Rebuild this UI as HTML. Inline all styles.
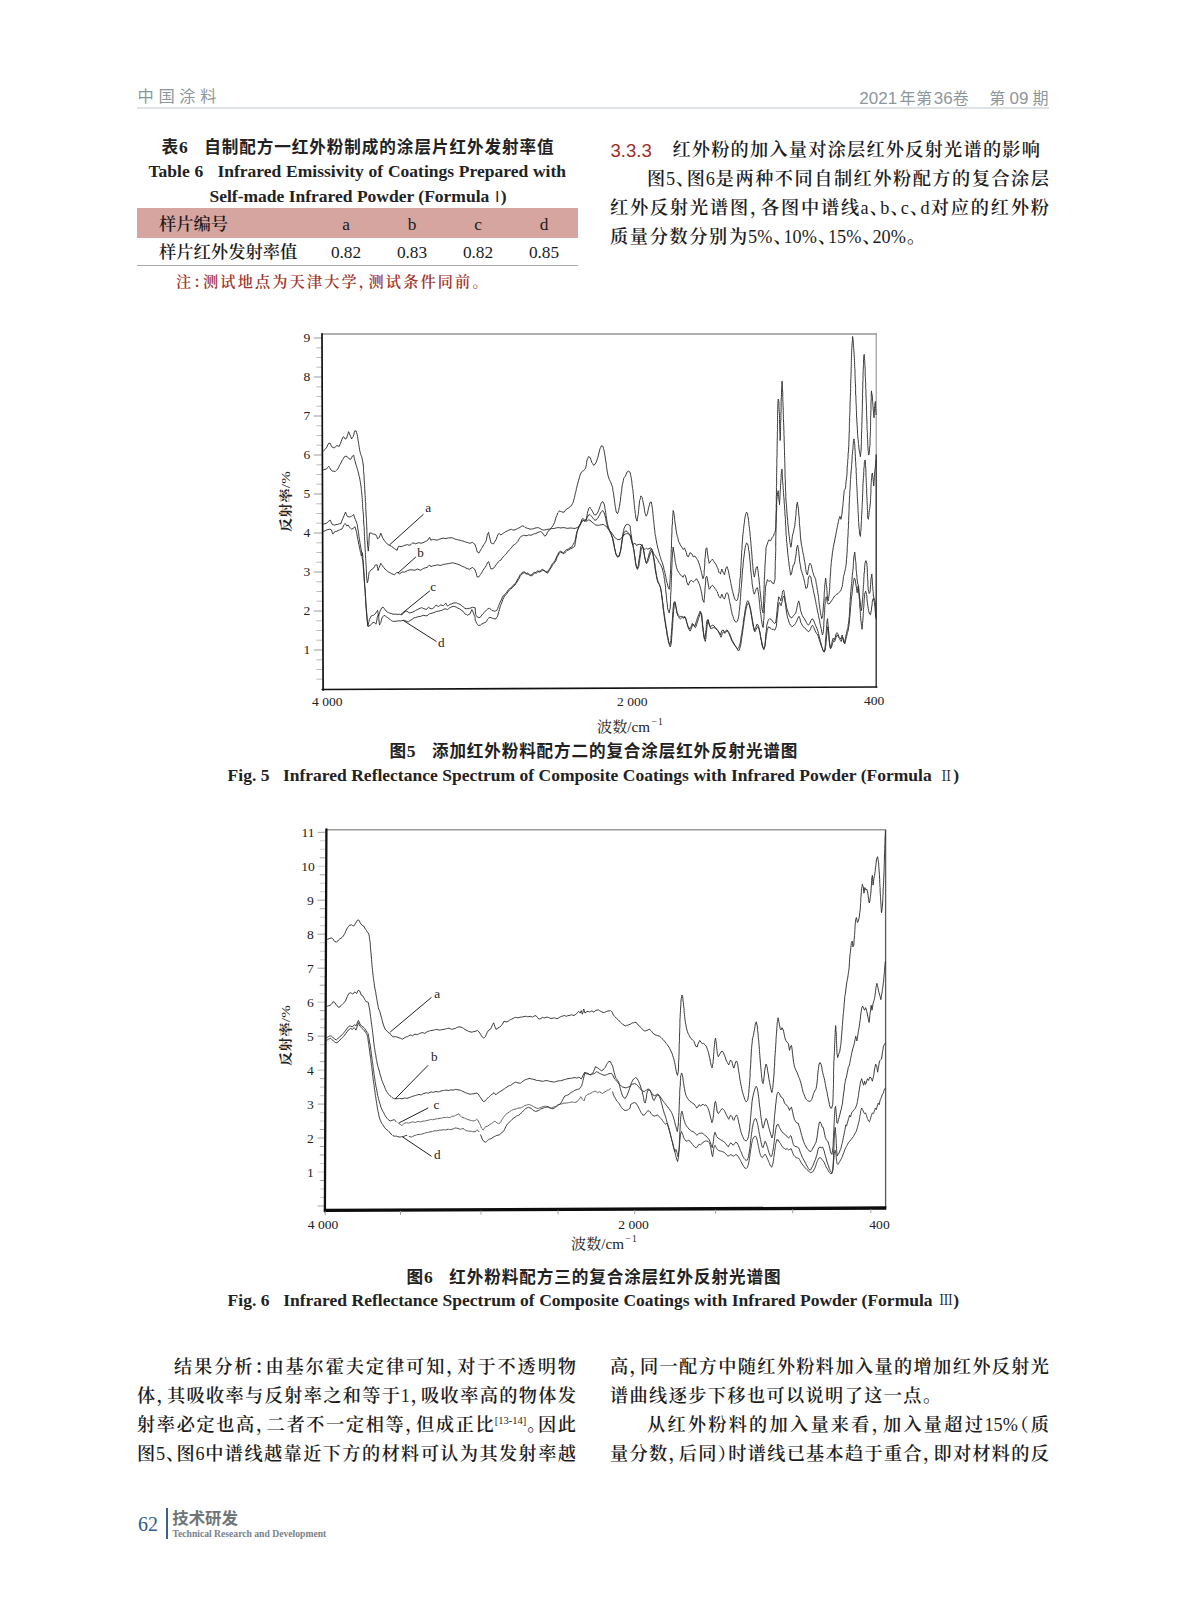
<!DOCTYPE html>
<html lang="zh-CN">
<head>
<meta charset="utf-8">
<title>中国涂料 2021年第36卷 第09期</title>
<style>
html,body{margin:0;padding:0;background:#fff;}
body{font-feature-settings:"halt";width:1187px;height:1600px;position:relative;overflow:hidden;
  font-family:"Liberation Serif","Noto Serif CJK SC",serif;color:#1a1a1a;}
.abs{position:absolute;white-space:nowrap;}
.j{text-align:justify;text-align-last:justify;}
.p{font-feature-settings:"halt";}
.c{text-align:center;}
.song{font-family:"Liberation Serif","Noto Serif CJK SC",serif;}
.hei{font-family:"Liberation Sans","Noto Sans CJK SC",sans-serif;}
.body{font-size:18.2px;line-height:29px;height:29px;color:#1c1c1c;font-weight:600;}
.l{font-weight:normal;margin:0 -0.6px;}
.hdr{color:#8d979b;}
.red{color:#a3332b;}
svg{position:absolute;left:0;top:0;}
svg text{font-family:"Liberation Serif","Noto Serif CJK SC",serif;fill:#222;}
</style>
</head>
<body>

<!-- running header -->
<div class="abs hei hdr" style="left:137.6px;top:84.8px;font-size:16.3px;line-height:22px;letter-spacing:4.6px;">中国涂料</div>
<div class="abs hei hdr" style="left:0;top:87px;width:1187px;height:24px;font-size:16px;line-height:24px;"><span class="abs" style="left:859.3px;font-size:17px;">2021</span><span class="abs" style="left:899.4px;letter-spacing:0.5px;">年第</span><span class="abs" style="left:933.8px;font-size:17px;">36</span><span class="abs" style="left:952.8px;">卷</span><span class="abs" style="left:989.2px;">第</span><span class="abs" style="left:1009.6px;font-size:17px;">09</span><span class="abs" style="left:1032.6px;">期</span></div>
<div class="abs" style="left:137px;top:107px;width:912px;height:2px;background:#dfe3e5;"></div>

<!-- table 6 -->
<div class="abs hei" style="left:161.5px;top:135.2px;width:392px;font-size:16.6px;line-height:24px;font-weight:bold;color:#222;"><div class="j">表<span class="song" style="font-size:17.5px">6</span> &nbsp;&nbsp;自制配方一红外粉制成的涂层片红外发射率值</div></div>
<div class="abs" style="left:148.5px;top:159.3px;width:417.5px;font-size:17.5px;line-height:24px;font-weight:bold;color:#222;"><div class="j">Table 6 &nbsp;&nbsp;Infrared Emissivity of Coatings Prepared with</div></div>
<div class="abs" style="left:209.5px;top:183.5px;font-size:17.5px;line-height:24px;font-weight:bold;color:#222;">Self-made Infrared Powder (Formula <span class="hei" style="font-weight:normal;font-size:15px;letter-spacing:-5px;margin-left:-4px">Ⅰ</span><span style="margin-left:1px">)</span></div>
<div class="abs" style="left:137px;top:208.3px;width:441px;height:29.6px;background:#d7a5a0;"></div>
<div class="abs" style="left:137px;top:265.2px;width:441px;height:1.2px;background:#a9a9a9;"></div>
<div class="abs body" style="left:159px;top:209.7px;font-size:17.3px;">样片编号</div>
<div class="abs body c" style="font-size:17.3px;left:316px;top:209.7px;width:60px;"><span class="l">a</span></div>
<div class="abs body c" style="font-size:17.3px;left:382px;top:209.7px;width:60px;"><span class="l">b</span></div>
<div class="abs body c" style="font-size:17.3px;left:448px;top:209.7px;width:60px;"><span class="l">c</span></div>
<div class="abs body c" style="font-size:17.3px;left:514px;top:209.7px;width:60px;"><span class="l">d</span></div>
<div class="abs body" style="left:159px;top:238px;font-size:17.3px;">样片红外发射率值</div>
<div class="abs body c" style="font-size:17.3px;left:316px;top:238px;width:60px;"><span class="l">0.82</span></div>
<div class="abs body c" style="font-size:17.3px;left:382px;top:238px;width:60px;"><span class="l">0.83</span></div>
<div class="abs body c" style="font-size:17.3px;left:448px;top:238px;width:60px;"><span class="l">0.82</span></div>
<div class="abs body c" style="font-size:17.3px;left:514px;top:238px;width:60px;"><span class="l">0.85</span></div>
<div class="abs red" style="left:176px;top:270px;width:304px;font-size:15.2px;line-height:24px;font-weight:600;"><div class="j">注：测试地点为天津大学，测试条件同前。</div></div>

<!-- right column top -->
<div class="abs hei" style="left:610.5px;top:136px;font-size:18.6px;line-height:29px;color:#9e2c25;">3.3.3</div>
<div class="abs body" style="left:672.4px;top:136px;width:367.5px;font-size:18.2px;"><div class="j">红外粉的加入量对涂层红外反射光谱的影响</div></div>
<div class="abs body" style="left:647px;top:165px;width:402px;"><div class="j">图<span class="l">5</span>、图<span class="l">6</span>是两种不同自制红外粉配方的复合涂层</div></div>
<div class="abs body" style="left:610px;top:194px;width:439px;"><div class="j">红外反射光谱图，各图中谱线<span class="l">a</span>、<span class="l">b</span>、<span class="l">c</span>、<span class="l">d</span>对应的红外粉</div></div>
<div class="abs body" style="left:610px;top:223px;width:306px;"><div class="j">质量分数分别为<span class="l">5%</span>、<span class="l">10%</span>、<span class="l">15%</span>、<span class="l">20%</span>。</div></div>

<!-- figure captions -->
<div class="abs hei" style="left:389.4px;top:738.5px;width:408px;font-size:16.6px;line-height:24px;font-weight:bold;color:#222;"><div class="j">图<span class="song" style="font-size:17.5px">5</span> &nbsp;&nbsp;添加红外粉料配方二的复合涂层红外反射光谱图</div></div>
<div class="abs" style="left:227.6px;top:763.2px;width:731.5px;font-size:17.5px;line-height:24px;font-weight:bold;color:#222;"><div class="j">Fig. 5 &nbsp;&nbsp;Infrared Reflectance Spectrum of Composite Coatings with Infrared Powder (Formula <span style="font-weight:normal;font-size:14px;margin:0 0 0 3px;position:relative;top:-0.5px">Ⅱ</span>)</div></div>
<div class="abs hei" style="left:406.6px;top:1265px;width:374px;font-size:16.6px;line-height:24px;font-weight:bold;color:#222;"><div class="j">图<span class="song" style="font-size:17.5px">6</span> &nbsp;&nbsp;红外粉料配方三的复合涂层红外反射光谱图</div></div>
<div class="abs" style="left:227.6px;top:1287.8px;width:731.5px;font-size:17.5px;line-height:24px;font-weight:bold;color:#222;"><div class="j">Fig. 6 &nbsp;&nbsp;Infrared Reflectance Spectrum of Composite Coatings with Infrared Powder (Formula <span style="font-weight:normal;font-size:14px;margin:0 0 0 2px;position:relative;top:-0.5px">Ⅲ</span>)</div></div>

<!-- bottom left column -->
<div class="abs body" style="left:174px;top:1353px;width:402px;"><div class="j">结果分析：由基尔霍夫定律可知，对于不透明物</div></div>
<div class="abs body" style="left:137px;top:1382px;width:439px;"><div class="j">体，其吸收率与反射率之和等于<span class="l">1</span>，吸收率高的物体发</div></div>
<div class="abs body" style="left:137px;top:1411px;width:439px;"><div class="j">射率必定也高，二者不一定相等，但成正比<sup style="font-size:10.5px;line-height:0;vertical-align:7.5px;"><span class="l">[13-14]</span></sup>。因此</div></div>
<div class="abs body" style="left:137px;top:1440px;width:439px;"><div class="j">图<span class="l">5</span>、图<span class="l">6</span>中谱线越靠近下方的材料可认为其发射率越</div></div>

<!-- bottom right column -->
<div class="abs body" style="left:610px;top:1353px;width:439px;"><div class="j">高，同一配方中随红外粉料加入量的增加红外反射光</div></div>
<div class="abs body" style="left:610px;top:1382px;width:322px;"><div class="j">谱曲线逐步下移也可以说明了这一点。</div></div>
<div class="abs body" style="left:647px;top:1411px;width:402px;"><div class="j">从红外粉料的加入量来看，加入量超过<span class="l">15%</span>（质</div></div>
<div class="abs body" style="left:610px;top:1440px;width:439px;"><div class="j">量分数，后同）时谱线已基本趋于重合，即对材料的反</div></div>

<!-- footer -->
<div class="abs" style="left:138px;top:1512px;font-size:20px;line-height:24px;color:#335c8a;">62</div>
<div class="abs" style="left:166px;top:1508px;width:2px;height:31px;background:#3a6190;"></div>
<div class="abs hei" style="left:172.3px;top:1507px;font-size:16.4px;line-height:22px;font-weight:bold;color:#6e7579;">技术研发</div>
<div class="abs" style="left:172.5px;top:1528px;font-size:9.65px;line-height:12px;font-weight:bold;color:#7b8287;">Technical Research and Development</div>

<!--CHARTS_BEGIN-->
<svg width="1187" height="1600" viewBox="0 0 1187 1600">
<g fill="none" stroke-linejoin="round" stroke-linecap="round">
<path d="M313.8,338.0H322.4M313.8,377.0H322.4M313.8,416.0H322.4M313.8,455.0H322.4M313.8,494.0H322.4M313.8,533.0H322.4M313.8,572.0H322.4M313.8,611.0H322.4M313.8,650.0H322.4" stroke="#bcbcbc" stroke-width="1.7" stroke-linecap="butt"/>
<path d="M316.4,347.8H322.4M316.4,357.5H322.4M316.4,367.2H322.4M316.4,386.8H322.4M316.4,396.5H322.4M316.4,406.2H322.4M316.4,425.8H322.4M316.4,435.5H322.4M316.4,445.2H322.4M316.4,464.8H322.4M316.4,474.5H322.4M316.4,484.2H322.4M316.4,503.8H322.4M316.4,513.5H322.4M316.4,523.2H322.4M316.4,542.8H322.4M316.4,552.5H322.4M316.4,562.2H322.4M316.4,581.8H322.4M316.4,591.5H322.4M316.4,601.2H322.4M316.4,620.8H322.4M316.4,630.5H322.4M316.4,640.2H322.4M316.4,659.8H322.4M316.4,669.5H322.4M316.4,679.2H322.4" stroke="#ababab" stroke-width="0.8" stroke-linecap="butt"/>
<path d="M322.0,334.0H876.2" stroke="#969696" stroke-width="1.3"/>
<path d="M876.2,333.8V460" stroke="#8a8a8a" stroke-width="1"/>
<path d="M876.2,455V687.0" stroke="#333" stroke-width="1.4"/>
<path d="M322.0,333.8L323.1,690.1" stroke="#111" stroke-width="1.7"/>
<path d="M322.2,689.5L876.8000000000001,687.0" stroke="#111" stroke-width="1.6"/>
<path d="M323.4,451.2 L324.9,449.4 L326.4,447.9 L327.2,446.1 L328.0,444.6 L328.8,443.1 L330.4,443.5 L331.1,445.3 L332.1,447.1 L333.2,447.5 L334.5,447.9 L335.6,446.5 L336.9,445.5 L338.1,446.1 L339.4,446.3 L339.9,444.5 L340.6,443.3 L341.2,441.4 L341.8,439.8 L342.7,437.9 L343.4,436.6 L344.3,437.7 L345.1,439.0 L346.7,438.2 L347.1,436.3 L347.6,435.1 L348.1,433.4 L348.6,431.7 L349.3,433.2 L349.9,434.9 L350.8,436.7 L351.6,439.0 L352.3,437.6 L353.2,436.6 L353.8,434.6 L354.2,432.8 L354.8,430.9 L356.1,430.9 L356.6,432.6 L357.2,434.8 L357.6,436.6 L357.8,438.4 L358.1,440.4 L358.4,441.8 L358.7,443.5 L358.9,445.5 L359.3,447.7 L359.6,449.6 L360.0,451.7 L360.5,453.6 L361.1,455.3 L361.7,456.8 L362.1,458.5 L362.5,460.7 L362.9,462.8 L363.3,465.0 L363.5,467.4 L363.5,469.4 L363.6,471.6 L363.9,474.0 L364.1,475.7 L364.1,478.1 L364.2,480.1 L364.3,482.1 L364.6,484.5 L364.6,486.8 L364.7,488.6 L364.9,491.1 L364.9,492.9 L365.1,495.3 L365.3,497.4 L365.3,499.2 L365.4,501.6 L365.7,503.3 L365.7,505.6 L365.7,507.6 L365.8,509.8 L366.0,511.8 L366.0,514.0 L366.2,516.2 L366.4,518.4 L366.4,520.5 L366.5,522.3 L366.7,524.8 L366.7,526.7 L366.9,529.0 L366.9,530.7 L366.9,532.9 L367.0,534.6 L367.1,536.7 L367.2,538.7 L367.3,540.8 L367.5,543.0 L367.6,544.9 L367.8,547.3 L368.1,548.9 L368.3,551.1 L368.4,549.0 L368.6,546.8 L368.9,545.3 L368.9,543.0 L369.0,541.0 L369.0,538.9 L369.2,537.0 L369.4,535.0 L369.4,533.2 L371.1,532.9 L372.2,533.8 L373.5,534.1 L374.7,534.3 L375.9,534.9 L376.8,536.6 L377.6,538.9 L378.4,538.4 L379.2,537.3 L380.1,535.4 L380.8,533.2 L381.6,535.2 L382.4,537.3 L383.2,538.8 L384.1,540.2 L384.9,541.4 L385.9,542.3 L387.1,543.8 L388.1,544.6 L389.8,545.6 L391.4,546.2 L393.1,547.6 L394.6,548.7 L395.8,549.5 L397.1,550.3 L397.8,548.0 L398.7,546.2 L399.8,546.4 L401.1,546.7 L402.7,546.2 L404.4,545.4 L406.1,545.0 L407.6,544.6 L408.9,545.2 L410.1,545.1 L411.4,544.0 L412.5,543.0 L414.1,543.2 L415.7,543.8 L417.3,543.1 L419.0,542.7 L420.7,543.1 L422.2,543.0 L424.0,542.2 L425.5,541.4 L426.8,540.9 L427.9,540.1 L428.6,538.8 L429.6,537.3 L430.2,538.9 L430.7,540.1 L432.2,539.7 L433.6,539.4 L435.2,539.9 L436.9,540.1 L438.5,539.7 L440.1,538.9 L441.9,538.5 L443.4,538.1 L445.0,538.6 L446.6,538.4 L448.3,537.9 L449.9,537.8 L451.4,537.7 L453.1,538.1 L454.8,539.0 L456.4,539.4 L457.9,539.9 L459.6,540.1 L461.4,540.7 L462.9,541.0 L464.5,541.6 L466.1,542.2 L467.7,542.5 L469.4,543.3 L471.1,542.9 L472.6,542.3 L473.8,543.7 L475.1,544.6 L475.6,546.7 L476.3,548.1 L476.7,550.0 L477.3,551.9 L478.9,553.1 L479.7,551.7 L480.5,550.1 L481.4,548.7 L482.1,547.6 L483.0,546.0 L483.8,544.6 L484.6,543.5 L485.4,542.2 L486.2,540.6 L486.6,539.0 L486.9,537.0 L487.2,535.5 L487.5,534.1 L488.7,532.4 L488.9,534.5 L489.4,536.2 L489.8,538.1 L490.3,539.8 L490.6,541.4 L491.1,543.0 L492.4,543.6 L493.6,543.8 L494.3,542.5 L495.1,541.0 L496.0,539.7 L496.7,538.0 L497.3,536.4 L497.9,534.5 L499.2,533.6 L500.9,534.9 L502.2,534.0 L503.3,533.2 L504.6,532.4 L505.7,531.6 L507.4,530.9 L509.0,530.0 L510.2,529.7 L511.4,529.3 L512.6,529.9 L513.9,530.0 L515.1,529.8 L516.3,529.2 L517.6,528.5 L518.7,528.0 L520.0,527.5 L521.2,526.4 L522.8,525.9 L524.1,526.5 L525.2,527.6 L526.4,527.9 L527.7,528.4 L528.8,528.6 L530.1,529.2 L531.2,529.1 L532.6,528.9 L533.8,528.7 L535.0,528.0 L536.1,527.9 L537.4,527.6 L538.7,527.8 L539.9,528.4 L541.2,529.3 L542.3,529.7 L543.5,530.1 L544.7,530.0 L546.3,529.6 L548.0,529.2 L549.7,529.1 L551.2,528.7 L552.8,528.5 L554.5,528.4 L556.1,527.9 L557.7,527.6 L559.3,527.7 L561.0,528.0 L562.7,527.6 L564.2,527.7 L565.9,528.0 L567.5,528.4 L569.0,528.1 L570.7,528.0 L572.4,528.2 L574.0,528.4 L575.5,528.3 L577.2,527.6 L578.5,526.6 L579.7,525.1 L580.8,523.4 L582.1,521.9 L582.8,521.2 L583.7,520.2 L584.9,520.4 L586.2,521.1 L587.4,520.7 L588.6,519.9 L589.9,520.3 L591.1,521.1 L592.2,522.4 L593.5,523.2 L594.7,524.3 L595.9,525.1 L597.1,525.0 L598.4,525.4 L599.6,525.1 L600.8,524.8 L601.9,524.8 L603.2,524.3 L604.5,525.3 L605.7,525.9 L606.8,527.4 L608.1,528.4 L609.2,530.2 L610.6,531.6 L611.8,533.2 L613.0,534.9 L614.2,536.8 L615.4,538.1 L616.6,538.7 L617.9,539.7 L619.1,539.4 L620.3,539.4 L621.4,537.8 L622.7,536.5 L623.9,535.1 L625.2,534.1 L626.4,533.7 L627.6,533.6 L628.9,534.3 L630.1,535.2 L630.5,536.8 L631.0,538.5 L631.5,540.6 L632.0,542.2 L632.6,544.4 L633.1,546.2 L633.4,548.3 L633.9,550.1 L634.2,552.3 L634.4,554.4 L634.7,556.5 L634.9,558.3 L635.2,560.5 L635.4,562.4 L635.7,564.1 L636.4,566.2 L637.0,568.2 L637.7,566.9 L638.3,565.7 L638.5,563.6 L638.7,562.0 L639.0,559.7 L639.3,558.2 L639.6,556.0 L640.0,554.1 L640.1,551.9 L640.4,550.1 L640.6,548.2 L640.9,546.2 L642.2,544.6 L642.6,546.5 L643.2,547.9 L643.5,549.5 L643.8,551.8 L644.1,553.5 L644.4,555.5 L644.8,557.6 L645.3,559.2 L645.6,560.9 L646.1,562.5 L647.4,560.9 L647.7,559.1 L648.2,557.6 L648.7,556.0 L649.0,554.1 L649.5,552.6 L650.0,551.1 L650.7,549.9 L651.3,548.7 L652.0,550.4 L652.6,551.9 L653.0,554.0 L653.2,555.5 L653.7,557.2 L653.9,559.2 L654.2,561.3 L654.3,563.3 L654.8,565.2 L655.0,567.2 L655.2,569.0 L655.5,571.0 L655.9,573.3 L656.3,575.3 L656.5,577.1 L657.0,579.0 L657.4,580.5 L657.8,582.0 L658.6,582.9 L659.4,584.4 L660.0,586.4 L660.7,588.5 L660.9,590.6 L661.3,592.5 L661.6,594.5 L661.8,596.0 L662.0,598.2 L662.3,600.3 L662.5,602.1 L662.7,603.7 L663.0,605.7 L663.0,607.6 L663.3,609.6 L663.7,611.4 L663.9,613.8 L664.1,615.4 L664.4,617.5 L664.6,619.4 L665.0,621.5 L665.3,623.2 L665.5,625.3 L665.9,627.5 L666.3,629.4 L666.6,631.3 L666.8,633.4 L667.2,635.6 L667.6,637.4 L667.9,638.7 L668.2,640.5 L668.5,642.1 L669.2,643.1 L669.8,644.6 L670.4,642.3 L670.8,640.5 L671.1,638.6 L671.0,636.1 L671.4,634.3 L671.5,631.7 L671.6,629.9 L671.8,627.5 L671.9,625.5 L672.0,623.3 L672.3,621.0 L672.4,619.1 L672.6,617.2 L672.6,615.2 L672.8,612.9 L673.0,610.6 L673.0,609.0 L673.3,606.9 L673.5,605.0 L673.7,603.1 L674.7,601.5 L675.0,603.3 L675.3,604.9 L675.7,606.4 L676.1,607.8 L676.5,609.7 L676.8,611.1 L677.0,612.9 L677.8,614.0 L678.6,615.3 L679.6,616.2 L680.2,616.9 L681.9,616.1 L683.2,617.7 L684.5,616.1 L685.1,617.3 L685.8,618.6 L686.2,619.9 L686.5,622.0 L687.1,623.4 L687.7,625.3 L688.4,626.7 L689.0,627.8 L689.7,629.1 L690.3,627.7 L691.0,626.7 L691.6,625.3 L692.3,623.4 L693.6,625.1 L694.9,625.9 L695.6,624.0 L696.2,621.8 L696.9,620.0 L697.5,617.7 L698.2,616.1 L698.8,614.5 L699.5,612.6 L700.1,611.2 L701.0,612.9 L701.3,614.9 L701.6,617.0 L701.7,618.7 L702.0,621.0 L702.3,622.7 L702.4,624.8 L702.6,627.0 L702.9,628.7 L703.0,630.7 L703.4,632.8 L703.7,635.0 L704.0,637.2 L704.9,638.9 L705.1,636.6 L705.4,635.1 L705.7,632.6 L705.9,630.7 L706.2,629.1 L706.3,626.6 L706.4,624.6 L706.7,622.7 L706.9,621.0 L707.9,619.4 L708.3,621.3 L708.8,623.4 L709.5,625.3 L710.1,626.7 L711.4,625.9 L712.7,625.1 L714.0,625.9 L715.3,627.5 L716.6,629.1 L717.9,630.7 L719.2,632.4 L720.0,633.5 L720.5,634.8 L721.2,632.8 L721.8,630.7 L723.1,629.9 L723.8,631.1 L724.4,632.4 L725.7,630.7 L727.0,629.9 L728.3,631.6 L728.9,632.6 L729.6,634.0 L730.4,635.4 L730.9,637.2 L731.6,638.9 L732.2,640.5 L733.0,641.5 L733.5,642.9 L734.1,644.0 L734.8,645.4 L736.1,647.0 L737.4,648.6 L738.7,647.8 L739.4,645.7 L740.0,643.7 L740.5,641.9 L740.8,639.4 L740.9,637.8 L741.3,635.6 L741.8,633.6 L742.0,631.3 L742.3,629.8 L742.6,627.5 L743.0,625.8 L743.3,623.4 L743.3,621.4 L743.7,619.8 L743.9,617.7 L744.4,615.8 L744.6,613.8 L744.9,611.7 L745.2,609.6 L745.5,608.2 L745.8,606.6 L746.3,604.6 L746.5,603.1 L747.1,601.8 L747.8,600.7 L748.5,602.0 L749.1,603.1 L749.4,604.5 L749.8,606.4 L750.1,607.8 L750.4,609.6 L750.8,611.4 L751.0,613.7 L751.5,615.8 L751.7,617.7 L752.2,619.8 L752.3,621.7 L752.8,624.0 L753.0,625.9 L753.4,627.2 L753.9,629.2 L754.3,630.7 L755.0,629.0 L755.6,627.5 L756.3,626.1 L756.9,624.2 L758.2,625.1 L758.6,626.7 L759.1,628.8 L759.5,630.7 L759.9,632.6 L760.3,635.0 L760.5,636.7 L760.8,638.9 L761.3,640.4 L761.6,642.0 L761.8,643.9 L762.1,645.4 L762.7,647.3 L763.4,648.6 L764.2,647.3 L764.9,646.4 L765.0,644.4 L765.2,642.8 L765.3,640.6 L765.5,639.1 L765.6,636.6 L765.8,635.0 L765.9,633.0 L766.3,631.3 L766.5,629.4 L766.7,627.1 L766.8,625.2 L767.2,623.9 L767.8,621.7 L768.1,620.4 L769.0,619.5 L769.7,618.7 L771.4,619.6 L772.2,620.7 L773.0,622.0 L773.7,622.5 L774.6,623.6 L775.9,622.0 L776.1,620.0 L776.4,617.9 L776.6,616.0 L776.7,614.4 L776.9,612.2 L777.2,610.3 L777.2,608.3 L777.5,606.6 L777.6,604.4 L777.9,602.5 L778.3,600.3 L778.5,598.9 L778.8,596.8 L779.8,598.4 L780.4,599.4 L780.8,600.9 L781.0,599.0 L781.6,597.5 L781.8,596.0 L782.2,594.6 L782.4,592.6 L782.7,591.1 L783.7,590.3 L784.2,592.3 L784.3,594.2 L784.7,596.0 L785.0,598.0 L785.2,600.5 L785.7,602.5 L786.1,604.2 L786.4,605.5 L786.6,607.4 L787.0,609.0 L787.6,610.9 L788.0,612.1 L788.6,613.9 L789.4,615.5 L790.2,617.1 L791.8,617.9 L792.8,616.5 L793.5,615.5 L794.4,614.8 L795.1,613.9 L795.8,612.4 L796.4,610.6 L796.7,608.9 L797.0,607.3 L797.4,605.5 L797.7,604.1 L798.1,602.6 L798.7,600.9 L799.1,602.2 L799.6,604.1 L799.9,606.3 L800.3,608.7 L800.6,610.6 L801.4,612.9 L801.9,614.7 L802.5,615.7 L803.2,617.1 L804.5,618.7 L805.1,620.0 L805.8,621.2 L806.5,622.4 L807.1,623.6 L808.4,625.2 L809.7,623.6 L810.3,621.9 L811.0,620.4 L812.3,618.7 L813.6,620.4 L814.3,622.1 L814.9,623.6 L815.6,625.5 L816.2,626.9 L816.9,628.3 L817.5,630.1 L818.0,631.6 L818.4,633.3 L818.8,635.0 L819.3,636.4 L819.6,638.1 L820.1,639.9 L820.5,641.7 L821.0,643.0 L821.4,644.7 L821.8,646.7 L822.3,647.8 L822.7,649.6 L823.4,650.9 L824.0,652.1 L824.6,649.8 L825.0,648.0 L825.2,646.0 L825.4,643.9 L825.4,641.4 L825.6,639.1 L825.9,637.2 L826.0,635.0 L826.2,632.8 L826.4,630.6 L826.4,628.7 L826.7,626.1 L826.8,624.2 L826.9,622.0 L827.2,620.3 L827.6,618.7 L827.7,620.6 L827.9,622.9 L828.1,624.7 L828.2,626.9 L828.3,628.9 L828.6,631.0 L828.7,633.2 L829.0,635.6 L829.0,637.5 L829.2,639.9 L829.4,641.9 L829.7,643.7 L829.9,646.1 L830.2,648.0 L831.2,646.4 L831.5,644.6 L831.8,643.4 L832.1,641.5 L832.6,639.9 L833.1,638.2 L834.4,639.9 L834.8,638.2 L835.4,636.9 L835.7,635.0 L836.3,633.6 L837.0,632.6 L837.7,633.6 L838.3,635.0 L838.9,636.5 L839.6,637.4 L840.9,639.1 L841.6,637.2 L842.2,635.0 L842.6,636.8 L843.1,638.0 L843.5,639.9 L843.9,641.5 L844.5,643.1 L844.9,641.7 L845.0,639.9 L845.5,638.2 L845.8,636.6 L846.0,634.9 L846.5,633.6 L846.8,631.7 L847.1,630.1 L847.7,628.8 L848.1,626.9 L848.2,624.6 L848.7,623.1 L848.8,620.5 L849.0,618.7 L849.3,616.6 L849.4,614.8 L849.5,612.4 L849.6,610.5 L849.6,608.8 L849.9,606.4 L849.8,604.5 L850.0,602.5 L850.2,600.3 L850.3,598.0 L850.6,596.2 L850.6,593.9 L850.9,591.4 L851.0,589.5 L851.3,587.3 L851.4,585.6 L851.6,583.5 L851.8,581.7 L852.0,579.7 L852.1,577.9 L852.3,575.8 L852.4,574.0 L852.8,571.8 L852.9,570.0 L853.2,568.0 L853.3,565.5 L853.4,563.3 L853.5,561.3 L853.7,559.1 L853.9,557.0 L854.2,555.1 L854.5,553.5 L854.7,552.1 L855.0,554.3 L855.1,555.9 L855.3,558.1 L855.5,560.2 L855.8,562.2 L856.0,564.9 L856.1,566.9 L856.1,569.2 L856.4,571.4 L856.5,573.2 L856.8,575.0 L857.0,577.4 L857.0,579.0 L857.4,580.8 L857.5,583.0 L858.1,584.5 L858.5,586.2 L858.8,588.1 L859.0,590.6 L859.1,592.2 L859.4,594.4 L859.6,596.2 L859.7,598.1 L860.0,600.5 L860.3,602.4 L860.4,604.1 L860.7,606.5 L861.0,608.5 L861.4,610.6 L861.6,608.9 L861.9,607.4 L862.0,605.7 L862.2,603.8 L862.3,601.7 L862.6,599.2 L862.8,596.9 L863.0,595.0 L863.0,592.7 L863.1,590.9 L863.3,588.5 L863.4,586.4 L863.6,584.5 L863.7,582.9 L863.8,580.7 L863.8,578.2 L864.0,576.5 L864.0,574.1 L864.4,572.1 L864.5,570.2 L864.6,567.7 L864.8,565.4 L865.0,563.5 L865.3,561.9 L865.9,560.6 L866.3,561.9 L866.9,563.5 L867.0,565.7 L867.2,567.7 L867.3,570.0 L867.3,572.4 L867.4,574.1 L867.6,576.5 L867.6,578.7 L867.9,581.0 L867.9,582.9 L867.9,585.3 L868.1,587.2 L868.2,589.5 L868.7,591.5 L869.2,593.6 L869.8,592.5 L870.2,591.1 L870.3,589.2 L870.4,586.8 L870.6,584.5 L870.7,582.6 L870.9,580.3 L871.1,578.1 L871.6,575.9 L871.8,574.1 L871.9,575.9 L872.1,577.7 L872.3,579.2 L872.3,581.1 L872.4,583.0 L872.5,585.4 L872.8,587.5 L872.8,589.7 L873.2,591.6 L873.3,593.8 L873.4,596.0 L873.8,597.4 L874.4,599.2 L874.8,600.6 L875.4,602.5 L875.4,604.7 L875.6,606.9 L875.7,608.6 L875.8,610.8 L875.9,613.0 L875.9,615.1 L876.0,617.1" stroke="#2e2e2e" stroke-width="0.95"/>
<path d="M323.4,469.9 L325.0,469.3 L326.4,469.1 L327.7,467.4 L328.8,466.3 L329.6,467.5 L330.4,469.1 L331.3,470.3 L332.1,471.0 L333.7,471.2 L335.3,471.5 L336.6,470.2 L337.7,469.1 L338.5,467.7 L339.4,465.8 L340.2,464.3 L341.0,462.8 L341.8,460.9 L342.6,459.8 L343.5,458.4 L344.2,456.9 L345.9,456.1 L347.5,456.9 L348.3,458.0 L349.1,458.8 L350.7,459.3 L351.6,457.6 L352.4,456.1 L353.7,455.2 L354.0,456.9 L354.3,458.7 L354.8,460.1 L355.3,461.7 L355.8,464.2 L356.4,465.8 L356.9,467.5 L357.4,469.3 L358.1,471.5 L358.5,473.2 L358.9,474.9 L359.2,476.4 L359.7,478.0 L360.0,480.2 L360.4,482.3 L360.6,484.3 L361.0,486.1 L361.3,488.3 L361.3,489.7 L361.5,491.5 L361.8,493.9 L362.0,495.8 L362.1,497.5 L362.3,499.4 L362.3,501.3 L362.6,503.4 L362.6,505.6 L362.7,507.5 L362.9,509.8 L363.1,511.6 L363.3,513.7 L363.5,515.8 L363.6,517.9 L363.5,519.8 L363.7,522.0 L363.8,524.0 L364.0,525.8 L364.2,527.7 L364.2,530.0 L364.4,531.8 L364.3,533.9 L364.6,536.4 L364.5,538.1 L364.7,540.3 L364.8,542.2 L364.9,544.4 L365.0,546.2 L365.1,548.5 L365.2,550.1 L365.4,552.3 L365.4,554.5 L365.5,556.6 L365.7,558.6 L365.8,560.4 L365.9,562.5 L366.0,564.5 L366.2,566.4 L366.3,568.5 L366.3,570.7 L366.5,572.9 L366.5,575.3 L366.7,577.1 L366.8,579.0 L367.1,581.1 L367.3,582.8 L367.9,580.9 L368.3,578.7 L368.5,576.5 L368.8,574.6 L369.1,572.2 L370.1,571.2 L371.1,569.8 L372.2,569.0 L373.5,568.2 L374.5,566.6 L375.4,564.9 L377.1,564.9 L377.3,566.8 L377.8,568.6 L378.0,570.6 L378.5,568.9 L379.2,567.4 L380.0,565.5 L380.8,563.3 L381.5,564.3 L382.4,565.7 L383.6,567.3 L384.9,569.0 L386.5,570.3 L388.1,571.9 L389.7,572.5 L391.4,573.5 L393.1,574.3 L394.6,574.7 L395.7,573.7 L397.1,572.2 L398.2,573.0 L399.5,573.9 L400.8,573.1 L401.9,571.9 L403.2,572.0 L404.4,572.2 L405.9,571.5 L407.6,570.6 L409.2,570.0 L410.9,569.8 L412.5,569.8 L414.1,570.3 L415.7,569.8 L417.4,569.0 L419.0,569.6 L420.6,570.3 L422.3,569.2 L423.9,568.2 L425.4,567.8 L427.1,567.4 L428.3,566.3 L429.6,564.9 L430.7,566.6 L432.3,566.1 L433.6,565.7 L435.3,565.5 L436.9,564.9 L438.5,565.0 L440.1,565.4 L441.8,565.2 L443.4,564.4 L445.1,564.2 L446.6,563.8 L448.3,563.7 L449.9,563.3 L451.5,563.0 L453.1,562.8 L454.7,563.4 L456.4,563.8 L457.9,564.3 L459.6,564.9 L461.3,565.9 L462.9,566.6 L464.5,567.2 L466.1,568.2 L467.7,568.7 L469.4,569.3 L471.0,568.3 L472.6,567.4 L473.9,568.8 L475.1,569.8 L475.5,571.7 L476.3,573.4 L476.7,575.6 L477.3,577.1 L478.9,576.8 L479.6,575.6 L480.5,574.5 L481.4,573.1 L482.3,571.7 L482.9,570.4 L483.8,569.0 L485.0,567.5 L486.2,565.7 L486.9,564.2 L487.5,562.5 L488.7,561.7 L489.3,563.7 L489.8,565.7 L490.5,567.6 L491.1,569.0 L492.3,568.7 L493.6,568.2 L494.8,566.7 L496.0,564.9 L497.1,563.6 L498.4,561.7 L499.6,560.6 L500.9,560.1 L502.0,558.4 L503.3,556.8 L504.4,555.5 L505.7,554.4 L506.9,552.9 L508.2,551.1 L509.4,549.8 L510.6,548.7 L511.8,547.2 L513.1,545.4 L514.4,544.6 L515.5,543.8 L516.7,542.8 L517.9,541.4 L518.7,539.6 L519.6,538.1 L520.3,537.3 L521.2,536.2 L522.5,535.8 L523.6,535.2 L524.8,535.5 L526.1,535.7 L527.2,535.6 L528.5,534.9 L529.7,535.1 L530.9,535.2 L532.2,534.8 L533.4,534.1 L534.6,533.7 L535.8,533.6 L537.0,532.8 L538.2,532.4 L539.5,531.9 L540.7,531.6 L541.8,532.3 L542.8,533.2 L543.7,534.6 L544.7,536.2 L546.4,534.9 L547.2,532.9 L548.0,531.3 L549.1,530.4 L550.4,529.2 L551.6,527.4 L552.9,525.9 L553.6,524.3 L554.5,522.7 L555.0,520.9 L555.6,518.8 L556.1,517.0 L557.0,515.2 L557.7,512.9 L558.5,512.1 L559.4,510.8 L560.7,511.5 L561.8,511.8 L562.9,512.2 L564.2,512.1 L565.5,510.2 L566.7,508.9 L567.8,508.5 L569.1,507.6 L570.4,506.4 L571.6,505.6 L572.3,503.8 L573.2,502.4 L573.5,500.9 L574.0,498.9 L574.5,497.7 L574.8,495.9 L575.1,494.3 L575.6,492.4 L576.1,490.6 L576.4,488.6 L576.9,487.1 L577.2,485.4 L577.7,483.8 L578.1,482.1 L578.6,480.4 L579.2,478.1 L579.7,476.4 L580.4,474.1 L581.3,472.3 L582.5,471.2 L583.7,470.7 L584.7,469.3 L585.7,468.2 L586.0,466.2 L586.4,464.4 L586.6,462.4 L587.0,460.1 L587.8,458.4 L588.6,456.5 L590.2,457.7 L590.8,459.5 L591.3,460.9 L591.9,462.6 L592.8,463.7 L593.5,465.3 L595.1,464.2 L596.0,462.6 L596.7,460.9 L597.2,459.1 L597.9,457.4 L598.4,455.2 L598.7,453.9 L599.2,452.0 L599.7,450.1 L600.0,448.7 L600.7,447.4 L601.3,445.8 L602.9,446.3 L603.5,448.6 L604.1,450.4 L604.4,452.5 L604.8,454.9 L605.2,456.9 L605.4,458.8 L605.7,460.8 L606.1,462.6 L606.3,464.6 L606.5,466.6 L606.8,468.5 L607.1,471.0 L607.5,472.9 L607.8,474.7 L608.3,476.3 L608.8,478.0 L609.4,479.6 L610.3,481.4 L611.0,482.9 L611.5,484.6 L612.2,486.2 L612.7,487.7 L612.8,489.7 L613.1,491.6 L613.6,493.9 L613.8,495.9 L614.1,498.0 L614.4,499.8 L614.6,501.8 L614.9,503.7 L615.1,505.6 L615.5,507.6 L615.9,509.9 L616.2,512.1 L617.5,513.7 L618.2,511.9 L618.7,510.5 L619.0,508.1 L619.5,506.4 L619.8,504.0 L620.1,502.0 L620.4,500.3 L620.6,498.0 L620.8,496.2 L621.1,494.2 L621.3,492.3 L621.7,490.6 L621.8,488.4 L622.1,486.2 L622.4,484.5 L622.9,482.6 L623.3,480.7 L623.6,478.8 L624.3,477.5 L625.2,476.4 L626.0,474.6 L626.8,472.3 L628.4,471.2 L630.1,472.3 L630.5,474.1 L630.7,475.6 L631.2,477.5 L631.4,479.2 L631.8,481.2 L631.9,483.3 L632.2,485.3 L632.4,487.2 L632.6,488.5 L633.0,490.6 L633.1,492.6 L633.4,494.6 L633.5,497.1 L633.8,499.3 L634.0,501.0 L634.2,503.6 L634.4,505.6 L634.6,507.8 L634.8,509.7 L635.1,511.0 L635.2,513.3 L635.6,514.8 L635.7,517.0 L636.3,519.2 L637.0,521.1 L637.3,519.4 L637.7,517.1 L638.0,515.6 L638.3,513.7 L638.5,511.7 L638.7,509.6 L638.9,507.3 L639.2,505.0 L639.4,503.1 L639.6,500.7 L640.2,499.3 L640.5,497.4 L640.9,495.9 L642.2,497.5 L642.4,499.4 L642.9,500.9 L643.2,502.4 L643.5,504.0 L644.0,506.2 L644.2,507.9 L644.5,510.3 L644.8,512.1 L645.4,514.3 L646.1,516.2 L646.8,515.2 L647.4,513.7 L647.8,512.0 L648.0,510.4 L648.4,508.9 L648.7,507.2 L649.2,505.9 L649.5,504.2 L650.0,502.4 L651.3,502.0 L651.7,504.4 L652.0,506.1 L652.4,508.6 L652.6,510.5 L652.9,512.9 L653.0,514.6 L653.3,517.2 L653.4,519.3 L653.8,521.2 L653.9,523.5 L654.2,525.5 L654.3,527.1 L654.5,529.3 L654.9,531.1 L654.9,533.2 L655.2,534.9 L655.7,536.7 L656.0,539.2 L656.4,541.0 L656.7,543.0 L657.1,544.7 L657.4,546.1 L657.8,548.0 L658.3,549.5 L658.7,551.2 L659.1,552.8 L659.4,554.1 L659.9,556.0 L660.6,557.5 L660.9,559.3 L661.6,560.9 L662.2,562.3 L662.7,564.0 L663.2,565.7 L663.6,567.1 L663.9,569.3 L664.5,570.6 L664.8,572.2 L665.2,574.1 L665.7,576.3 L666.1,578.5 L666.4,580.4 L666.9,582.3 L667.2,583.3 L667.6,585.1 L668.1,586.9 L668.5,587.8 L669.2,589.3 L669.4,587.4 L669.6,585.4 L669.9,582.7 L670.0,580.8 L670.2,578.7 L670.2,577.0 L670.3,574.7 L670.5,572.9 L670.5,570.6 L670.6,568.4 L670.8,566.9 L670.7,564.3 L670.8,562.4 L671.0,560.7 L671.1,558.2 L671.1,556.5 L671.1,554.4 L671.3,552.5 L671.2,549.9 L671.4,548.3 L671.5,545.8 L671.5,543.9 L671.5,541.5 L671.6,539.3 L671.7,537.2 L671.8,535.0 L671.9,532.8 L672.0,530.8 L671.9,529.1 L672.1,526.7 L672.2,525.0 L672.5,522.9 L672.4,520.6 L672.5,518.9 L672.8,516.7 L672.8,514.5 L673.1,512.5 L673.1,510.5 L673.6,511.9 L674.1,513.7 L674.2,515.4 L674.6,517.6 L674.6,519.7 L674.9,521.3 L675.1,523.1 L675.4,525.1 L675.8,527.0 L675.9,529.0 L676.3,531.2 L676.6,533.2 L677.0,534.9 L677.3,536.7 L677.9,537.9 L678.2,539.6 L678.6,541.4 L679.4,542.8 L680.2,544.6 L681.0,546.1 L681.9,547.1 L682.6,548.5 L683.2,549.5 L684.5,547.9 L685.0,549.4 L685.8,551.1 L686.3,552.5 L686.7,554.2 L687.1,556.0 L688.4,556.8 L689.3,554.5 L690.0,552.7 L691.6,553.6 L692.5,555.1 L693.2,556.8 L694.9,556.0 L695.6,556.9 L696.5,558.4 L697.4,559.7 L698.1,560.9 L698.6,562.5 L699.3,564.0 L699.7,565.7 L700.2,567.2 L700.5,569.2 L701.0,570.4 L701.4,572.2 L701.7,573.6 L702.2,575.5 L702.5,576.9 L703.0,578.7 L703.5,577.2 L704.0,575.5 L704.2,573.5 L704.1,571.2 L704.4,569.3 L704.5,567.1 L704.7,565.2 L704.8,563.5 L704.8,561.0 L704.9,559.2 L705.2,557.1 L705.4,554.9 L705.5,553.1 L705.7,550.6 L705.9,548.7 L706.9,547.9 L707.1,550.0 L707.3,551.9 L707.6,554.0 L707.9,556.0 L708.1,558.0 L708.6,559.9 L708.8,561.6 L709.2,563.3 L710.0,562.2 L710.8,560.9 L711.5,560.3 L712.4,559.2 L713.3,560.5 L714.0,561.7 L714.9,562.9 L715.7,564.1 L716.5,565.5 L717.3,567.4 L718.0,568.8 L718.3,570.4 L718.9,572.2 L719.7,573.2 L720.5,573.9 L720.9,572.0 L721.5,570.4 L721.8,569.0 L722.4,570.7 L723.1,572.2 L723.8,573.5 L724.4,574.7 L724.9,572.5 L725.4,571.0 L725.7,569.0 L726.3,567.6 L727.0,566.6 L727.7,568.6 L728.3,570.6 L728.6,572.0 L729.0,573.7 L729.3,575.7 L729.6,577.1 L729.9,578.8 L730.4,580.2 L730.7,582.3 L730.9,583.6 L731.2,585.2 L731.7,586.9 L731.9,588.8 L732.2,590.1 L732.7,591.6 L733.1,593.3 L733.5,595.0 L734.2,597.3 L734.8,599.1 L736.1,600.7 L737.4,599.9 L737.8,598.5 L738.2,596.8 L738.3,595.0 L738.7,593.4 L739.1,591.7 L739.1,589.4 L739.4,587.4 L739.5,585.3 L739.7,583.6 L739.8,581.5 L739.9,579.2 L740.3,577.5 L740.4,575.3 L740.5,573.4 L740.7,570.8 L740.7,569.0 L740.9,566.8 L741.0,564.8 L741.1,563.2 L741.2,560.7 L741.3,558.8 L741.5,556.7 L741.5,554.9 L741.7,552.7 L741.7,550.7 L742.1,548.6 L742.0,546.5 L742.2,544.2 L742.3,542.1 L742.5,540.2 L742.6,538.1 L742.8,536.0 L742.9,534.2 L743.3,532.3 L743.4,530.4 L743.6,528.4 L743.8,526.5 L744.1,524.3 L744.4,522.3 L744.6,520.2 L744.9,518.2 L745.2,516.5 L745.6,514.6 L746.0,513.4 L746.5,512.1 L747.5,513.7 L747.7,515.8 L748.3,517.9 L748.5,520.2 L748.8,522.3 L748.9,524.6 L749.2,526.5 L749.5,528.4 L749.6,530.1 L750.0,532.2 L750.0,534.2 L750.2,536.3 L750.4,538.1 L750.5,539.9 L750.9,542.1 L750.9,543.7 L751.1,545.8 L751.3,547.8 L751.4,549.5 L751.7,551.7 L751.8,554.0 L752.0,556.0 L752.1,558.3 L752.3,560.1 L752.4,562.5 L752.7,564.1 L752.9,566.4 L753.0,568.6 L753.2,570.2 L753.4,572.2 L753.8,574.1 L754.0,575.4 L754.3,577.1 L754.7,575.5 L755.1,573.7 L755.3,572.2 L755.6,570.7 L755.9,568.9 L756.3,567.4 L757.3,566.6 L757.7,568.7 L757.9,570.3 L758.2,572.2 L758.4,574.1 L758.6,576.2 L758.9,577.8 L759.1,579.9 L759.2,582.0 L759.5,584.1 L759.7,585.7 L759.8,588.1 L759.9,589.5 L760.2,591.7 L760.4,593.7 L760.7,595.8 L760.8,597.9 L761.0,599.6 L761.2,601.5 L761.5,603.5 L761.6,605.6 L761.9,607.9 L762.1,609.6 L762.7,611.3 L763.1,612.9 L763.1,610.7 L763.2,608.8 L763.4,607.0 L763.5,604.7 L763.5,602.7 L763.7,600.5 L763.6,598.7 L763.6,596.4 L763.9,594.6 L763.8,592.2 L764.0,590.5 L764.1,588.6 L764.1,586.2 L764.3,584.2 L764.2,582.1 L764.3,580.2 L764.4,577.9 L764.6,576.2 L764.6,574.4 L764.8,571.8 L764.8,570.2 L764.9,568.1 L764.9,565.8 L765.2,564.0 L765.2,561.9 L765.4,559.6 L765.5,557.7 L765.6,555.7 L765.8,553.8 L765.9,551.4 L765.9,549.1 L766.2,547.2 L766.8,545.4 L767.3,544.0 L768.0,541.8 L768.9,539.9 L770.6,540.7 L771.4,539.3 L772.2,537.5 L773.0,536.5 L773.8,535.1 L774.3,533.5 L774.9,532.6 L775.3,530.9 L775.5,529.3 L775.8,527.7 L775.7,525.5 L775.8,523.9 L775.9,521.5 L775.9,519.4 L775.9,517.6 L776.0,515.6 L776.1,513.3 L776.1,510.9 L776.3,509.3 L776.2,507.3 L776.2,505.0 L776.4,502.7 L776.3,500.9 L776.3,498.8 L776.3,496.3 L776.5,494.0 L776.4,492.2 L776.5,490.0 L776.4,487.5 L776.5,485.3 L776.7,483.2 L776.6,480.9 L776.6,478.9 L776.6,476.6 L776.6,474.9 L776.7,472.5 L776.7,470.2 L776.7,468.0 L776.8,465.7 L776.9,463.7 L776.8,461.8 L776.8,459.4 L777.0,457.1 L777.0,455.4 L777.1,452.8 L777.0,451.0 L777.1,448.9 L777.1,446.8 L777.2,444.2 L777.2,441.9 L777.2,440.0 L777.3,437.8 L777.4,435.9 L777.3,433.7 L777.4,431.6 L777.5,429.5 L777.4,427.7 L777.4,425.8 L777.5,423.7 L777.6,421.4 L777.5,419.2 L777.5,417.6 L777.6,415.5 L777.6,413.3 L777.7,411.2 L777.8,409.2 L777.8,406.9 L777.9,405.0 L777.9,403.3 L778.1,401.0 L778.2,399.1 L778.6,400.4 L778.8,401.5 L779.0,403.7 L778.9,405.4 L779.0,407.7 L779.2,409.5 L779.2,411.7 L779.4,413.5 L779.5,415.6 L779.5,417.7 L779.6,419.6 L779.5,422.1 L779.7,424.1 L779.6,425.7 L779.7,427.9 L779.8,430.1 L779.8,432.1 L780.0,434.1 L780.1,436.4 L780.1,438.3 L780.1,440.5 L780.2,438.4 L780.3,435.9 L780.5,434.2 L780.4,431.6 L780.6,429.7 L780.6,427.5 L780.6,425.3 L780.6,423.6 L780.7,421.7 L780.9,419.1 L780.9,417.3 L780.9,415.5 L780.9,413.0 L781.1,411.2 L781.1,409.3 L781.1,407.4 L781.1,405.1 L781.1,403.1 L781.1,401.2 L781.2,399.0 L781.4,396.6 L781.5,394.5 L781.5,392.9 L781.5,390.6 L781.6,388.5 L781.8,386.8 L781.9,384.7 L781.9,382.9 L782.1,381.2 L782.2,383.0 L782.2,384.9 L782.4,387.2 L782.4,388.9 L782.6,391.0 L782.8,392.9 L782.7,395.0 L782.8,397.4 L782.8,399.4 L782.9,401.7 L783.0,403.8 L783.0,405.9 L783.2,408.0 L783.3,410.4 L783.2,412.2 L783.4,414.5 L783.4,416.4 L783.4,418.6 L783.5,421.0 L783.6,422.7 L783.7,425.0 L783.8,427.0 L783.8,429.0 L784.0,431.5 L783.9,433.6 L784.0,435.6 L784.2,437.8 L784.1,440.0 L784.2,441.9 L784.3,444.0 L784.4,446.6 L784.4,448.9 L784.5,450.7 L784.5,452.8 L784.5,455.3 L784.7,457.2 L784.7,459.5 L784.7,461.6 L784.9,463.8 L784.8,465.8 L785.0,467.8 L784.9,469.5 L785.1,471.6 L785.0,473.7 L785.1,475.9 L785.1,477.5 L785.3,479.9 L785.4,482.0 L785.3,483.9 L785.5,486.2 L785.5,487.9 L785.5,489.8 L785.7,491.7 L785.8,493.8 L785.8,496.3 L785.8,497.8 L786.0,500.1 L786.1,502.1 L786.4,504.2 L786.6,506.8 L786.7,508.7 L786.8,511.1 L787.0,513.1 L787.1,515.0 L787.3,516.9 L787.5,519.0 L787.7,520.5 L787.7,522.6 L787.9,524.5 L788.2,526.4 L788.3,528.1 L788.5,530.3 L788.8,532.5 L788.9,534.2 L789.3,536.6 L789.5,538.4 L789.7,540.1 L789.9,542.4 L790.3,544.1 L790.5,545.7 L790.9,547.2 L791.3,545.1 L791.6,542.8 L791.8,540.7 L792.1,538.8 L792.4,536.2 L792.8,534.2 L793.4,532.2 L793.8,530.2 L794.2,528.3 L794.8,526.1 L794.9,524.2 L795.1,522.2 L795.4,520.2 L795.5,518.1 L795.7,516.4 L796.0,514.5 L796.0,512.8 L796.2,510.4 L796.4,508.6 L796.6,506.9 L796.7,505.0 L797.0,503.7 L797.4,502.2 L797.6,504.2 L798.0,506.0 L798.3,508.2 L798.5,510.2 L798.7,512.8 L798.8,514.9 L799.1,516.7 L799.3,519.2 L799.3,521.2 L799.4,523.6 L799.6,525.4 L799.9,527.8 L800.0,529.7 L800.2,531.8 L800.3,534.2 L800.4,536.1 L800.6,538.2 L800.8,540.0 L801.1,542.0 L801.3,544.0 L801.7,545.7 L802.0,547.3 L802.3,549.1 L802.6,550.5 L802.8,552.3 L803.2,553.9 L803.6,555.6 L803.9,557.0 L804.1,559.0 L804.6,561.3 L804.9,562.8 L805.2,565.1 L805.5,566.9 L805.8,569.4 L806.1,571.5 L806.5,573.2 L807.4,574.9 L807.8,572.7 L808.0,570.8 L808.5,568.8 L808.7,566.7 L809.3,564.7 L810.0,563.2 L810.6,564.3 L811.3,565.1 L811.6,566.8 L811.9,568.5 L812.3,569.8 L812.6,571.6 L813.4,573.7 L813.9,575.7 L814.6,577.1 L815.2,578.1 L815.7,579.5 L815.9,581.2 L816.2,583.2 L816.5,584.6 L816.9,586.4 L817.1,588.9 L817.6,590.7 L817.8,592.7 L818.1,594.5 L818.5,596.6 L818.7,598.7 L818.8,600.4 L819.1,602.5 L819.3,604.7 L819.7,606.1 L819.8,608.3 L820.2,610.3 L820.4,612.2 L820.7,613.8 L821.0,615.5 L821.4,616.8 L821.7,618.7 L822.2,617.4 L822.7,615.5 L822.8,613.1 L823.1,611.0 L823.2,609.0 L823.3,606.9 L823.5,604.9 L823.7,602.5 L823.9,600.2 L824.0,598.6 L824.2,596.6 L824.2,594.5 L824.3,592.2 L824.5,590.5 L824.7,588.4 L824.7,586.2 L824.9,584.4 L825.2,582.2 L825.4,580.1 L825.6,578.1 L825.9,580.1 L826.0,582.1 L826.3,584.5 L826.6,586.2 L826.8,588.3 L826.9,590.4 L827.1,592.5 L827.2,595.1 L827.4,597.0 L827.6,599.2 L828.2,600.9 L828.6,598.6 L828.8,596.3 L829.2,594.4 L829.3,592.2 L829.5,590.3 L829.7,588.2 L829.8,586.3 L829.7,584.0 L830.0,582.5 L830.0,580.3 L830.2,578.1 L830.3,576.3 L830.4,573.9 L830.7,571.7 L830.7,569.5 L830.8,567.5 L831.1,565.4 L831.2,563.5 L831.4,561.4 L831.6,559.9 L831.9,557.6 L832.1,556.2 L832.3,553.8 L832.5,552.1 L832.9,550.3 L833.2,547.8 L833.5,546.1 L833.9,544.0 L834.4,542.1 L834.8,539.8 L835.1,538.1 L835.6,535.9 L836.0,533.8 L836.4,531.7 L836.7,529.7 L837.2,527.7 L837.5,525.8 L838.0,523.7 L838.4,521.5 L838.8,519.6 L839.4,517.7 L839.9,516.4 L840.5,517.9 L840.9,519.3 L841.4,517.0 L841.7,515.3 L842.1,513.1 L842.2,511.0 L842.4,509.1 L842.7,507.2 L842.9,505.5 L843.0,503.7 L843.2,501.7 L843.4,499.9 L843.5,497.9 L843.7,495.9 L843.9,494.3 L844.1,492.2 L844.2,490.4 L844.9,489.4 L845.5,487.9 L845.7,485.8 L845.9,484.1 L846.0,481.5 L846.3,479.9 L846.6,477.7 L846.8,475.7 L847.0,473.4 L847.1,471.2 L847.1,469.0 L847.2,467.1 L847.5,464.7 L847.7,462.7 L847.7,460.4 L848.0,458.7 L848.1,456.2 L848.1,453.9 L848.4,452.0 L848.6,450.2 L848.6,448.0 L848.8,446.1 L848.8,444.3 L848.8,442.2 L849.0,440.0 L849.0,438.0 L849.1,436.1 L849.1,433.9 L849.3,432.0 L849.4,429.8 L849.3,427.5 L849.4,425.6 L849.4,423.4 L849.6,421.6 L849.6,419.8 L849.6,417.5 L849.7,415.6 L849.9,413.2 L849.9,411.2 L850.0,409.4 L849.9,407.1 L850.1,405.4 L850.0,403.2 L850.2,401.1 L850.3,399.3 L850.3,397.3 L850.4,395.2 L850.6,392.8 L850.6,391.2 L850.6,388.6 L850.7,386.9 L850.6,385.1 L850.7,383.1 L850.8,380.9 L850.8,378.6 L851.0,376.5 L851.0,374.9 L851.1,372.9 L851.2,370.3 L851.1,368.8 L851.3,366.3 L851.3,364.4 L851.3,362.5 L851.4,360.2 L851.4,358.7 L851.5,356.6 L851.6,354.4 L851.6,352.3 L851.7,350.4 L851.8,348.4 L852.0,346.2 L852.1,344.1 L852.2,342.3 L852.5,340.3 L852.4,338.7 L852.6,336.5 L852.9,338.3 L853.0,339.6 L853.3,341.4 L853.3,343.1 L853.4,345.3 L853.6,347.3 L853.8,348.9 L853.9,351.1 L854.1,353.1 L854.1,354.9 L854.3,357.1 L854.4,358.8 L854.4,360.5 L854.6,362.5 L854.6,364.8 L854.7,366.5 L854.8,368.4 L855.0,370.3 L855.0,372.9 L855.0,374.8 L855.1,376.6 L855.2,378.7 L855.2,380.7 L855.4,383.3 L855.5,385.0 L855.6,387.3 L855.6,389.6 L855.6,392.0 L855.6,394.1 L855.9,396.1 L855.9,398.2 L856.0,400.6 L856.0,402.5 L856.2,404.4 L856.3,406.5 L856.3,408.7 L856.4,410.6 L856.5,412.8 L856.5,414.9 L856.6,417.1 L856.8,419.1 L856.8,421.0 L857.0,423.0 L857.0,424.8 L857.3,427.1 L857.3,429.1 L857.5,431.0 L857.5,433.4 L857.7,435.3 L857.8,437.2 L858.1,439.4 L858.3,440.9 L858.4,443.3 L858.7,444.8 L858.8,447.0 L859.0,449.0 L859.4,451.2 L859.8,453.5 L860.2,455.1 L860.4,456.7 L860.6,454.3 L860.8,452.7 L861.1,450.2 L861.2,448.0 L861.2,446.1 L861.4,443.5 L861.4,441.5 L861.4,439.3 L861.5,437.2 L861.5,434.8 L861.6,433.0 L861.7,430.7 L861.7,428.4 L861.9,426.4 L861.8,424.2 L862.0,422.0 L862.0,420.3 L862.0,418.0 L862.1,415.9 L862.1,413.5 L862.2,411.5 L862.3,409.4 L862.3,407.5 L862.4,405.2 L862.4,403.1 L862.4,401.0 L862.6,398.7 L862.6,396.9 L862.5,394.7 L862.6,392.2 L862.7,390.3 L862.7,388.2 L862.9,386.3 L862.7,384.1 L862.9,381.9 L863.0,379.7 L863.0,377.9 L863.0,375.5 L863.1,373.5 L863.2,371.6 L863.3,369.5 L863.3,367.1 L863.5,365.4 L863.6,363.5 L863.5,361.1 L863.7,359.2 L863.7,357.8 L863.9,355.8 L864.2,354.4 L864.4,356.4 L864.4,358.5 L864.7,360.5 L864.8,362.5 L864.8,364.6 L865.0,366.6 L865.2,368.8 L865.2,370.4 L865.2,372.7 L865.2,375.0 L865.3,376.6 L865.5,378.7 L865.5,380.8 L865.7,383.1 L865.7,385.2 L865.6,387.3 L865.9,389.8 L866.0,391.6 L865.9,393.6 L866.0,396.0 L866.1,398.2 L866.2,400.4 L866.3,402.5 L866.4,404.6 L866.5,406.9 L866.4,409.0 L866.6,411.2 L866.6,413.3 L866.6,415.8 L866.8,417.7 L866.8,420.0 L867.0,422.1 L867.0,424.5 L867.0,426.6 L867.0,428.5 L867.2,430.5 L867.4,432.7 L867.4,434.9 L867.4,437.2 L867.6,439.5 L867.7,441.6 L867.8,443.9 L867.8,445.7 L868.0,447.9 L868.1,450.2 L868.4,451.7 L868.4,453.3 L868.7,455.1 L869.1,453.8 L869.4,451.9 L869.5,449.9 L869.6,448.1 L869.9,445.6 L870.0,443.7 L870.0,441.8 L870.0,439.9 L870.1,437.5 L870.3,435.5 L870.3,433.4 L870.5,431.5 L870.5,429.3 L870.5,427.5 L870.6,425.8 L870.6,423.2 L870.6,421.5 L870.6,419.4 L870.6,417.3 L870.8,415.3 L870.8,413.0 L870.9,411.0 L871.0,409.5 L871.0,407.2 L870.9,405.1 L871.0,403.1 L871.1,401.1 L871.3,398.8 L871.2,397.2 L871.3,395.0 L871.3,392.8 L871.5,390.9 L871.7,393.2 L872.1,395.0 L872.4,396.9 L872.5,398.8 L872.6,401.4 L872.8,403.1 L872.9,405.4 L873.1,406.9 L873.2,409.2 L873.4,411.2 L873.6,413.6 L873.8,415.8 L874.1,417.7 L874.1,415.6 L874.3,413.7 L874.4,412.2 L874.5,410.1 L874.5,408.3 L874.7,406.4 L874.8,404.8 L875.1,403.2 L875.4,401.5 L875.4,403.6 L875.6,405.6 L875.6,408.3 L875.8,410.4 L876.0,412.3 L876.0,414.5" stroke="#2e2e2e" stroke-width="0.95"/>
<path d="M323.4,524.3 L324.8,523.7 L326.4,523.5 L327.7,522.0 L328.8,521.1 L330.4,520.2 L331.2,522.3 L332.1,524.3 L333.2,524.7 L334.5,525.1 L336.0,524.7 L337.7,524.3 L339.4,523.8 L341.0,523.5 L341.5,521.8 L342.1,520.0 L342.8,518.8 L343.4,517.0 L344.1,515.6 L344.7,514.0 L345.5,512.1 L346.4,514.3 L347.2,516.2 L349.1,517.0 L350.4,516.7 L351.6,516.2 L352.6,515.5 L353.7,514.6 L354.1,516.0 L354.6,517.7 L355.3,519.4 L356.1,521.3 L356.9,523.5 L357.4,525.4 L357.7,527.7 L358.1,530.0 L358.4,532.2 L358.7,533.8 L358.9,536.1 L359.2,538.1 L359.6,539.9 L359.9,542.3 L360.2,544.1 L360.5,546.2 L360.9,548.3 L361.2,550.0 L361.6,552.3 L361.8,554.4 L362.1,556.2 L362.3,558.6 L362.7,560.3 L362.9,562.5 L363.1,564.2 L363.2,566.2 L363.4,568.6 L363.7,570.5 L363.7,572.2 L363.9,574.1 L364.1,576.3 L364.2,578.0 L364.2,579.9 L364.5,581.9 L364.6,583.6 L364.6,585.6 L364.8,587.2 L365.1,589.4 L365.2,591.0 L365.3,593.4 L365.4,595.0 L365.6,597.3 L365.7,599.5 L365.8,601.5 L366.0,603.8 L366.1,605.7 L366.2,608.0 L366.5,610.0 L366.6,611.7 L366.8,614.0 L366.8,616.0 L367.0,617.7 L367.1,619.6 L367.4,621.6 L367.6,624.1 L367.8,625.9 L368.3,624.4 L368.6,622.8 L369.1,621.1 L369.4,619.4 L370.4,617.9 L371.1,616.1 L372.3,615.5 L373.5,615.3 L374.8,614.3 L375.9,612.9 L376.7,611.7 L377.6,610.4 L378.0,612.5 L378.2,614.2 L378.7,616.1 L379.0,614.3 L379.6,612.8 L380.0,611.2 L380.8,609.6 L381.6,608.0 L383.2,607.2 L384.0,608.2 L384.9,609.6 L386.1,611.0 L387.3,612.1 L388.6,612.5 L389.7,613.2 L391.3,613.5 L393.0,614.2 L394.7,614.1 L396.2,614.2 L397.9,614.4 L399.5,614.2 L400.6,614.6 L401.9,614.8 L403.0,613.6 L404.4,612.1 L405.5,611.5 L406.8,611.2 L408.1,612.0 L409.2,612.9 L410.8,612.7 L412.5,612.1 L414.1,611.5 L415.7,610.4 L417.3,609.6 L419.0,608.8 L420.3,608.2 L421.4,607.7 L422.8,608.1 L423.9,608.8 L425.2,609.0 L426.3,609.6 L427.5,608.1 L428.7,607.2 L429.9,608.3 L431.2,608.8 L432.4,608.6 L433.6,608.0 L434.8,606.4 L436.1,605.1 L437.2,605.8 L438.5,606.4 L439.8,605.6 L440.9,604.7 L442.1,605.4 L443.4,605.6 L444.7,604.4 L445.8,603.1 L446.5,604.7 L447.4,606.0 L448.6,605.5 L449.9,604.4 L451.5,603.9 L453.1,603.1 L454.8,602.9 L456.4,602.8 L457.6,603.5 L458.8,603.9 L460.1,604.5 L461.2,605.1 L462.4,606.4 L463.7,607.2 L464.8,608.2 L466.1,608.8 L467.8,608.6 L469.4,608.3 L471.0,607.9 L472.6,607.2 L473.9,607.6 L475.1,607.7 L475.3,609.1 L475.3,610.9 L475.6,613.0 L475.7,614.5 L476.4,615.8 L477.3,616.9 L478.9,617.7 L480.6,616.9 L481.8,615.0 L483.0,613.7 L484.2,612.6 L485.4,611.2 L486.7,609.9 L487.9,608.8 L489.5,608.3 L490.8,609.3 L491.9,610.4 L493.2,610.8 L494.4,611.2 L495.7,610.9 L496.8,610.4 L497.7,608.5 L498.4,606.4 L499.2,604.6 L500.1,602.3 L500.9,600.8 L501.7,599.1 L502.4,597.2 L503.3,595.8 L504.1,595.2 L504.9,594.2 L505.8,593.3 L506.6,592.6 L507.3,591.3 L508.2,590.1 L509.1,589.1 L509.8,588.5 L511.4,587.7 L512.3,586.3 L513.1,585.2 L514.7,584.4 L515.5,582.9 L516.3,582.0 L517.1,580.3 L517.9,578.7 L518.9,577.4 L519.6,575.5 L520.3,574.4 L521.2,573.5 L522.8,572.2 L524.4,571.9 L525.4,572.6 L526.1,573.5 L527.7,573.1 L528.5,573.8 L529.3,574.7 L530.9,575.2 L532.6,574.2 L533.3,573.1 L534.2,572.2 L535.8,572.6 L536.6,571.7 L537.4,570.9 L539.1,571.4 L540.7,570.6 L542.3,569.3 L543.9,570.3 L545.6,571.4 L547.2,572.2 L548.1,570.9 L548.8,569.8 L549.6,568.8 L550.4,567.4 L551.2,565.9 L552.1,564.1 L552.9,563.5 L553.7,562.5 L554.5,561.1 L555.3,560.1 L556.2,558.0 L556.9,556.0 L557.8,554.5 L558.6,552.7 L559.4,551.8 L560.2,551.1 L561.8,551.9 L563.4,552.7 L564.2,552.2 L565.1,551.1 L565.9,550.2 L566.7,549.5 L568.3,549.2 L569.9,547.9 L571.6,547.1 L572.4,545.7 L573.2,544.6 L574.1,542.7 L574.8,541.4 L575.3,539.8 L575.5,538.4 L575.9,536.5 L576.2,534.7 L576.5,533.3 L576.9,531.6 L577.6,530.1 L578.1,528.4 L578.6,527.3 L579.2,525.9 L579.8,524.6 L580.5,523.5 L581.2,521.7 L581.8,519.4 L582.9,518.3 L583.8,519.4 L584.6,520.2 L586.2,519.4 L586.6,517.5 L587.0,515.8 L587.3,513.7 L587.7,511.9 L588.3,510.2 L588.6,508.5 L589.9,507.2 L590.7,508.7 L591.5,509.7 L592.4,511.3 L593.2,512.9 L594.0,514.2 L594.8,515.0 L596.4,514.6 L597.1,513.2 L598.0,512.1 L598.5,510.4 L599.1,509.1 L599.7,507.2 L600.3,505.8 L600.7,504.3 L601.3,502.7 L602.9,501.6 L603.5,503.0 L604.2,504.0 L604.7,506.4 L604.9,508.4 L605.4,510.5 L605.7,512.5 L606.0,514.8 L606.3,516.8 L606.5,518.6 L606.9,520.5 L607.1,522.0 L607.5,523.6 L607.8,525.1 L608.3,526.5 L608.9,528.6 L609.4,530.0 L610.2,531.4 L611.0,533.2 L611.5,534.6 L612.2,536.8 L612.7,538.1 L613.2,540.1 L613.5,541.9 L614.0,544.1 L614.3,546.2 L614.6,548.2 L615.0,549.8 L615.4,551.7 L615.9,553.6 L616.7,555.1 L617.5,556.3 L619.2,555.7 L619.5,554.4 L619.9,552.5 L620.5,551.1 L620.8,549.0 L621.0,547.1 L621.3,545.2 L621.6,543.0 L621.8,541.2 L622.3,539.0 L622.3,537.1 L622.7,534.9 L623.0,533.2 L623.4,531.4 L623.8,530.1 L624.0,528.4 L624.9,526.7 L625.7,525.1 L627.3,524.3 L628.9,524.8 L630.1,525.9 L630.3,527.8 L630.4,529.8 L630.8,531.6 L630.8,533.2 L631.3,535.2 L631.6,537.1 L631.8,539.1 L632.1,541.4 L632.8,543.1 L633.4,544.6 L634.7,543.0 L635.6,544.2 L636.4,545.4 L638.0,544.6 L639.6,544.3 L641.2,544.6 L641.9,545.7 L642.5,547.1 L643.8,548.7 L645.1,549.5 L646.4,548.2 L647.7,549.2 L649.0,548.7 L650.3,547.9 L651.6,548.7 L652.3,550.2 L652.9,551.9 L653.5,553.3 L654.2,554.4 L655.1,555.6 L655.9,556.8 L656.6,558.1 L657.5,559.2 L658.2,560.7 L659.1,562.5 L660.0,563.8 L660.7,564.9 L661.7,567.1 L662.4,569.0 L662.9,570.9 L663.2,572.4 L663.5,573.7 L664.0,575.5 L664.1,577.7 L664.6,579.5 L664.7,581.3 L665.0,583.4 L665.3,585.2 L665.6,587.3 L665.6,589.4 L665.9,592.0 L666.2,593.9 L666.3,595.8 L666.6,598.2 L666.7,600.3 L667.0,602.3 L667.3,604.1 L667.5,606.0 L667.6,607.5 L667.9,609.6 L668.6,611.2 L669.2,612.9 L669.5,611.1 L669.7,609.9 L670.2,608.0 L670.3,606.1 L670.5,603.7 L670.5,601.6 L670.6,599.7 L670.6,597.1 L670.7,595.4 L670.8,592.9 L671.0,591.3 L671.0,588.7 L671.1,586.9 L671.3,584.8 L671.2,582.5 L671.4,580.7 L671.4,578.5 L671.5,576.1 L671.7,574.1 L671.6,572.1 L671.7,569.7 L671.8,567.8 L671.9,565.7 L672.0,563.2 L672.1,561.1 L672.1,559.2 L672.3,557.2 L672.5,555.3 L672.5,553.2 L672.8,551.1 L672.9,549.3 L673.1,547.1 L673.4,548.7 L673.7,551.1 L674.1,552.7 L674.3,554.6 L674.7,556.8 L674.9,558.7 L675.0,560.3 L675.4,562.5 L675.9,564.3 L676.1,565.5 L676.5,567.6 L677.0,569.0 L677.7,570.7 L678.6,572.2 L679.5,573.5 L680.2,574.7 L681.2,575.4 L681.9,576.3 L683.2,577.1 L683.7,575.6 L684.5,574.7 L685.2,575.7 L685.8,577.1 L686.3,579.1 L686.6,581.1 L687.1,582.8 L687.6,584.0 L688.4,585.2 L689.1,583.4 L690.0,581.2 L691.6,580.4 L692.5,581.4 L693.2,582.0 L693.9,581.4 L694.9,580.4 L695.7,579.8 L696.5,578.7 L697.3,580.0 L698.1,581.2 L699.0,583.4 L699.7,585.2 L700.1,586.6 L700.6,588.4 L700.9,589.8 L701.4,591.7 L701.8,593.5 L702.1,596.0 L702.3,597.6 L702.7,599.9 L703.4,600.9 L704.0,602.3 L704.1,600.0 L704.4,598.3 L704.4,596.0 L704.7,594.4 L704.9,591.9 L704.9,590.1 L705.1,587.8 L705.3,585.6 L705.5,583.9 L705.7,581.2 L705.7,579.1 L705.9,577.1 L706.9,576.3 L707.3,578.3 L707.6,580.1 L707.9,582.0 L708.2,583.9 L708.6,585.9 L708.9,587.7 L709.2,589.3 L710.1,588.3 L710.8,586.9 L711.7,585.8 L712.4,585.2 L713.3,586.3 L714.0,586.9 L714.8,588.3 L715.7,589.3 L716.4,590.8 L717.3,591.7 L717.8,593.5 L718.3,594.9 L718.9,596.6 L719.7,597.3 L720.5,598.2 L721.1,596.2 L721.8,594.2 L722.6,595.9 L723.1,597.4 L724.4,599.1 L725.0,597.6 L725.4,596.1 L725.7,594.2 L727.0,592.6 L727.8,593.6 L728.3,595.0 L728.6,596.6 L728.9,598.1 L729.4,600.1 L729.6,601.5 L729.9,603.3 L730.4,605.0 L730.7,606.4 L730.9,608.0 L731.2,609.8 L731.6,611.3 L731.9,612.9 L732.2,614.5 L733.0,616.3 L733.5,618.6 L734.2,619.9 L734.8,621.0 L736.1,622.3 L737.4,621.0 L737.9,619.6 L738.3,618.0 L738.7,616.1 L739.0,614.4 L739.1,611.9 L739.4,610.3 L739.7,608.0 L739.8,605.7 L740.1,604.0 L740.1,601.5 L740.4,599.4 L740.6,597.3 L740.7,595.0 L740.8,592.7 L740.9,590.8 L741.1,588.4 L741.5,586.4 L741.5,584.3 L741.7,582.0 L741.9,579.9 L742.0,577.4 L742.1,575.2 L742.3,573.1 L742.4,571.2 L742.6,569.0 L743.0,567.2 L743.0,565.3 L743.2,562.9 L743.4,561.1 L743.6,559.2 L743.9,557.2 L744.2,554.9 L744.5,553.1 L744.6,551.1 L745.0,548.9 L745.3,547.2 L745.6,545.4 L746.1,544.4 L746.5,543.0 L747.5,543.8 L748.1,545.7 L748.5,547.9 L748.6,549.7 L749.1,551.7 L749.3,554.0 L749.5,556.0 L749.7,557.8 L749.8,559.7 L750.2,561.8 L750.3,563.8 L750.4,565.7 L750.6,567.4 L750.7,569.9 L750.9,571.9 L751.2,573.7 L751.4,575.5 L751.5,577.6 L751.8,579.3 L752.0,581.1 L752.1,583.5 L752.4,585.2 L752.7,587.3 L753.1,589.4 L753.4,591.7 L753.8,592.8 L754.3,594.2 L754.8,592.9 L755.3,591.7 L755.8,590.1 L756.3,588.5 L757.3,587.7 L757.8,589.4 L758.2,591.7 L758.5,594.0 L758.7,595.5 L759.0,597.6 L759.2,599.9 L759.4,601.9 L759.5,603.5 L759.8,605.5 L759.9,607.6 L760.2,609.6 L760.3,611.4 L760.7,613.7 L761.0,615.7 L761.2,617.7 L761.4,619.7 L761.9,622.1 L762.1,624.2 L762.7,626.1 L763.1,627.5 L763.4,625.1 L763.6,623.1 L763.6,620.7 L763.9,618.7 L764.1,616.4 L764.0,614.3 L764.3,612.2 L764.4,609.8 L764.4,607.8 L764.5,605.8 L764.6,603.4 L764.9,601.4 L764.9,599.2 L764.9,596.8 L765.2,594.9 L765.2,592.7 L765.5,590.6 L765.5,588.4 L765.7,586.2 L766.1,584.7 L766.4,583.2 L767.0,581.5 L767.3,579.7 L768.2,580.5 L768.9,581.4 L770.6,580.6 L771.5,581.6 L772.2,583.0 L773.8,583.8 L774.3,581.8 L774.9,579.7 L775.1,577.3 L775.0,575.1 L775.1,573.0 L775.1,571.2 L775.2,569.2 L775.3,566.9 L775.2,564.8 L775.3,562.4 L775.4,560.5 L775.5,558.4 L775.6,555.7 L775.6,553.7 L775.7,551.4 L775.8,549.4 L775.7,547.5 L775.7,545.0 L775.8,543.0 L775.7,540.7 L775.8,538.8 L775.8,536.5 L775.9,534.2 L776.0,532.2 L776.0,529.8 L776.0,528.0 L776.1,525.4 L776.2,523.5 L776.2,521.2 L776.4,518.8 L776.3,516.7 L776.4,514.7 L776.4,512.8 L776.6,510.6 L776.7,508.1 L776.7,506.0 L776.6,504.2 L776.7,501.7 L776.8,499.7 L777.0,498.0 L777.3,496.6 L777.4,494.6 L777.5,492.8 L778.0,491.9 L778.2,490.7 L778.4,492.7 L778.4,494.4 L778.7,496.6 L778.8,498.5 L779.1,500.8 L779.4,502.4 L779.5,504.7 L779.5,503.1 L779.7,500.8 L779.9,499.0 L779.9,497.2 L780.0,495.6 L780.1,493.6 L780.2,491.7 L780.4,489.5 L780.5,487.7 L780.5,485.5 L780.7,483.6 L780.8,481.4 L781.0,479.3 L781.2,477.7 L781.1,475.5 L781.4,473.5 L781.4,471.7 L781.7,470.7 L781.9,469.2 L782.2,470.9 L782.2,472.8 L782.3,474.9 L782.4,476.6 L782.5,478.3 L782.6,480.3 L782.7,482.2 L782.9,484.3 L783.1,486.3 L783.1,488.3 L783.4,490.3 L783.4,492.3 L783.6,493.9 L783.7,496.1 L783.9,497.9 L784.1,500.2 L784.2,502.8 L784.4,504.9 L784.6,507.0 L784.7,509.1 L784.9,511.4 L784.9,513.3 L785.0,515.0 L785.3,517.2 L785.4,519.4 L785.5,521.1 L785.4,523.3 L785.7,525.3 L785.9,527.2 L785.8,529.1 L786.0,531.5 L786.0,533.3 L786.2,535.6 L786.5,537.2 L786.4,539.8 L786.6,541.6 L787.0,543.5 L787.0,545.9 L787.3,548.0 L787.5,550.1 L787.6,552.1 L787.9,554.6 L788.1,556.2 L788.4,558.5 L788.5,560.4 L788.9,562.0 L789.0,563.9 L789.2,565.9 L789.6,567.8 L789.7,569.4 L790.1,571.4 L790.3,573.2 L790.5,575.2 L791.3,574.0 L791.8,572.4 L792.1,570.7 L792.4,568.9 L792.9,567.1 L793.1,565.1 L794.4,564.3 L794.7,562.2 L795.1,560.7 L795.3,558.6 L795.7,557.0 L796.0,555.0 L796.2,553.3 L796.3,551.6 L796.5,550.0 L796.7,548.1 L797.1,546.8 L797.7,545.3 L798.0,547.2 L798.4,549.4 L798.7,551.3 L798.9,553.5 L799.0,555.1 L799.3,557.0 L799.4,558.9 L799.6,561.1 L800.0,563.3 L800.4,565.4 L800.7,567.0 L800.9,569.2 L801.6,571.3 L802.2,573.2 L802.8,575.3 L803.5,577.3 L803.8,578.7 L804.2,580.3 L804.6,582.4 L804.8,583.8 L805.3,585.3 L805.6,587.1 L806.1,588.7 L807.4,587.1 L807.6,585.2 L807.9,583.5 L808.1,581.5 L808.1,579.8 L808.4,578.1 L808.9,576.8 L809.4,575.7 L810.7,576.5 L811.1,578.2 L811.3,580.1 L811.7,582.1 L812.0,583.8 L812.3,585.4 L812.8,587.3 L813.0,588.4 L813.3,590.3 L813.7,592.3 L814.1,593.8 L814.6,596.0 L815.0,597.9 L815.2,599.2 L815.6,600.8 L815.9,602.5 L816.1,604.3 L816.6,605.7 L816.8,607.3 L817.2,609.0 L817.4,610.9 L817.7,612.1 L818.2,613.7 L818.5,615.5 L818.7,616.9 L819.1,618.8 L819.6,620.2 L819.8,622.0 L820.0,623.8 L820.4,625.1 L820.7,626.7 L821.1,628.5 L821.5,629.9 L821.7,631.9 L822.2,633.6 L822.4,635.0 L822.9,633.6 L823.4,631.7 L823.5,629.6 L823.6,627.8 L823.8,625.4 L823.8,623.9 L823.9,621.8 L824.1,619.4 L824.2,617.5 L824.3,615.5 L824.6,613.3 L824.7,611.3 L824.6,609.5 L824.8,607.2 L824.9,605.5 L825.2,603.4 L825.1,601.4 L825.3,599.2 L825.8,598.3 L826.3,596.8 L826.7,598.6 L827.0,600.8 L827.3,602.5 L828.2,604.1 L829.9,603.3 L830.6,602.0 L831.5,600.9 L832.3,599.6 L833.1,598.4 L833.9,597.0 L834.7,596.0 L835.5,595.4 L836.4,594.4 L838.0,593.6 L838.8,592.8 L839.6,591.9 L840.5,590.9 L841.2,589.5 L841.6,588.1 L842.2,586.5 L842.5,584.6 L842.8,582.7 L843.1,580.4 L843.3,578.5 L843.5,576.5 L844.1,574.7 L844.5,573.2 L844.8,571.5 L845.2,569.9 L845.6,568.6 L845.8,566.7 L846.1,564.6 L846.3,563.0 L846.4,561.0 L846.5,559.2 L846.8,557.0 L846.9,554.9 L847.0,553.1 L847.2,551.1 L847.2,548.8 L847.3,546.6 L847.5,544.5 L847.7,542.6 L847.7,540.7 L847.7,538.4 L848.0,536.4 L848.0,534.5 L848.2,532.7 L848.1,530.5 L848.4,528.3 L848.5,526.4 L848.4,524.4 L848.6,521.9 L848.7,520.3 L848.7,518.0 L848.8,516.0 L848.9,514.2 L849.0,511.7 L849.0,509.8 L849.2,508.0 L849.1,506.1 L849.2,503.8 L849.4,501.9 L849.4,499.5 L849.5,497.9 L849.7,495.6 L849.7,493.6 L849.8,491.7 L850.0,489.4 L850.2,487.8 L850.2,485.4 L850.4,483.7 L850.4,481.3 L850.5,479.5 L850.7,477.4 L850.8,475.2 L851.0,473.1 L851.1,471.1 L851.4,468.7 L851.6,466.4 L851.6,464.4 L851.9,462.2 L852.0,460.3 L852.1,458.1 L852.2,455.4 L852.5,453.8 L852.6,451.4 L852.9,449.7 L853.0,447.7 L853.1,445.3 L853.3,443.8 L853.4,441.6 L853.7,440.3 L853.9,438.9 L854.1,440.4 L854.4,442.1 L854.7,443.7 L854.8,445.5 L854.8,447.7 L855.1,450.0 L855.1,451.7 L855.2,453.7 L855.4,456.2 L855.4,458.0 L855.5,460.0 L855.7,462.2 L855.8,464.2 L855.8,466.3 L856.1,467.9 L856.2,470.1 L856.1,471.9 L856.3,474.3 L856.4,476.2 L856.4,478.3 L856.6,480.6 L856.6,482.5 L856.7,484.2 L856.8,486.3 L857.0,488.3 L857.0,490.3 L857.2,492.5 L857.2,494.3 L857.3,496.6 L857.4,498.6 L857.6,500.9 L857.7,502.9 L857.8,504.5 L857.9,506.5 L858.0,508.7 L858.0,510.5 L858.2,513.1 L858.3,514.8 L858.4,516.8 L858.5,518.8 L858.5,521.2 L858.7,522.7 L858.8,525.0 L859.0,526.9 L859.1,528.6 L859.4,530.3 L859.4,532.0 L859.6,533.9 L860.0,535.2 L860.4,536.4 L860.6,534.7 L860.6,532.5 L860.9,530.9 L861.0,528.9 L861.1,527.2 L861.2,525.0 L861.3,522.9 L861.4,520.7 L861.6,519.1 L861.5,516.8 L861.7,514.8 L861.8,513.0 L861.9,510.8 L862.0,508.7 L862.2,506.7 L862.2,504.3 L862.3,502.3 L862.5,499.9 L862.5,497.8 L862.6,496.0 L862.7,493.4 L862.7,491.6 L862.9,489.2 L862.9,487.3 L862.9,485.0 L863.1,483.3 L863.2,481.0 L863.3,478.9 L863.5,477.2 L863.7,475.3 L863.7,473.0 L863.8,471.4 L863.8,469.5 L864.1,467.1 L864.3,465.6 L864.3,463.3 L864.5,461.6 L865.1,460.0 L865.4,462.2 L865.5,464.3 L865.5,465.8 L865.8,468.1 L865.8,469.9 L866.0,472.3 L865.9,474.0 L866.0,476.3 L866.2,478.6 L866.2,480.6 L866.3,482.3 L866.4,484.4 L866.4,486.2 L866.7,488.6 L866.7,490.1 L866.6,492.1 L866.8,494.4 L866.8,496.3 L867.0,498.0 L867.0,500.4 L867.1,502.2 L867.2,504.3 L867.4,506.5 L867.3,508.5 L867.6,510.8 L867.6,512.7 L867.6,514.6 L867.7,516.9 L868.0,518.2 L868.4,519.3 L868.5,517.6 L868.9,515.5 L869.0,513.6 L869.1,512.2 L869.4,510.5 L869.7,508.7 L869.9,506.9 L870.1,505.0 L870.4,502.9 L870.5,500.6 L870.6,498.5 L870.6,496.4 L870.8,494.7 L870.9,492.7 L871.0,490.6 L870.9,488.6 L871.0,486.5 L871.1,484.4 L871.2,482.6 L871.4,480.3 L871.6,478.3 L871.8,476.7 L871.8,474.6 L872.4,473.0 L872.6,475.3 L872.9,477.6 L873.1,479.5 L873.3,481.6 L873.6,483.6 L873.7,486.0 L873.9,483.8 L874.0,481.9 L874.2,480.1 L874.3,478.1 L874.4,476.2 L874.7,474.2 L874.7,471.9 L875.0,469.7 L875.3,467.4 L875.5,465.3 L875.7,463.2 L875.8,461.9 L876.0,460.0" stroke="#2e2e2e" stroke-width="0.95"/>
<path d="M323.4,531.3 L325.0,530.9 L326.4,530.0 L328.0,529.6 L329.6,529.2 L331.2,529.7 L331.9,531.3 L332.3,532.8 L332.9,534.1 L333.7,533.3 L334.5,531.9 L335.7,531.4 L336.9,531.3 L338.2,530.4 L339.4,530.0 L340.6,529.3 L341.8,529.2 L342.7,527.6 L343.4,525.9 L344.3,524.5 L345.1,523.5 L345.9,524.6 L346.7,525.9 L348.3,525.1 L349.1,526.5 L349.9,527.6 L350.6,528.4 L351.6,529.2 L353.2,528.4 L353.9,527.8 L354.8,526.7 L355.4,528.1 L355.9,530.0 L356.4,531.6 L356.9,533.9 L357.2,536.2 L357.6,538.1 L357.8,539.5 L358.3,541.1 L358.5,543.0 L358.9,544.6 L359.2,546.0 L359.6,547.9 L359.9,549.3 L360.2,551.1 L360.7,552.6 L361.0,554.4 L361.3,556.0 L362.0,554.5 L362.4,552.7 L362.6,554.7 L362.9,556.6 L362.8,558.8 L363.2,560.7 L363.3,562.5 L363.5,564.5 L363.5,567.0 L363.8,569.2 L363.7,571.3 L364.0,573.3 L364.1,575.5 L364.1,577.4 L364.3,579.8 L364.4,581.9 L364.6,584.3 L364.8,586.1 L364.9,588.5 L365.1,590.6 L365.3,593.1 L365.2,595.0 L365.5,597.1 L365.6,599.2 L365.7,601.5 L365.7,603.2 L365.9,605.2 L366.1,607.2 L366.3,609.2 L366.3,611.2 L366.5,612.9 L366.7,614.9 L367.0,617.0 L367.1,619.0 L367.3,621.0 L367.5,623.2 L367.8,625.1 L368.1,626.7 L369.1,625.8 L370.2,625.5 L371.1,624.3 L371.9,623.4 L373.1,622.6 L374.3,622.3 L375.2,623.4 L375.9,624.2 L376.3,622.9 L376.7,621.1 L377.0,619.1 L377.2,617.7 L377.7,616.1 L378.4,614.5 L378.7,616.5 L378.8,618.4 L379.0,621.1 L379.3,623.1 L379.5,625.1 L380.0,623.7 L380.8,622.6 L381.1,621.2 L381.5,619.6 L381.9,617.7 L382.9,616.8 L384.1,615.3 L385.3,616.0 L386.5,616.9 L387.8,617.7 L388.9,618.6 L390.2,619.4 L391.4,620.7 L392.7,621.3 L393.8,621.3 L395.3,621.3 L397.1,621.0 L398.6,620.8 L400.3,621.0 L401.9,620.7 L403.6,620.2 L404.9,620.9 L406.0,621.0 L407.3,621.5 L408.4,621.8 L409.7,620.8 L410.9,620.2 L412.6,619.0 L414.1,617.7 L415.7,617.6 L417.4,616.9 L418.9,616.5 L420.6,616.4 L422.2,615.7 L423.9,615.3 L425.5,615.7 L427.1,615.8 L428.3,614.7 L429.6,613.7 L430.8,613.5 L432.0,613.2 L433.6,612.7 L435.2,612.1 L436.8,611.4 L438.5,611.2 L440.1,610.7 L441.7,610.4 L443.4,609.5 L445.0,608.8 L446.3,609.1 L447.4,609.6 L448.6,608.6 L449.9,607.7 L451.5,606.9 L453.1,606.4 L454.8,606.6 L456.4,607.2 L458.0,608.2 L459.6,608.8 L461.2,610.0 L462.9,611.2 L464.2,612.8 L465.3,614.2 L466.5,614.5 L467.7,615.3 L468.9,614.4 L470.2,613.7 L470.9,611.7 L471.8,609.6 L472.6,611.1 L473.4,612.9 L474.2,615.2 L475.1,616.9 L475.1,618.3 L475.2,620.2 L476.0,621.7 L476.8,623.4 L477.7,624.6 L478.4,625.5 L480.6,625.1 L481.8,624.0 L483.0,623.4 L484.1,622.8 L485.4,622.6 L486.6,621.1 L487.5,619.4 L488.3,618.5 L489.2,617.4 L491.1,617.7 L492.2,618.2 L493.6,618.6 L495.7,619.0 L496.4,617.7 L497.3,616.9 L497.9,615.2 L498.4,612.9 L498.9,611.2 L499.5,609.3 L500.0,607.2 L500.5,605.6 L501.5,603.2 L502.2,601.5 L502.9,599.4 L503.8,597.4 L504.5,596.0 L505.4,595.0 L506.3,594.5 L507.0,593.4 L507.8,592.0 L508.7,590.9 L509.5,590.0 L510.3,589.3 L511.9,588.2 L512.7,587.2 L513.5,586.1 L515.2,584.9 L516.0,583.4 L516.8,582.3 L517.5,581.0 L518.4,579.6 L519.4,578.2 L520.0,576.3 L520.8,575.3 L521.7,574.2 L523.3,573.1 L524.9,572.6 L525.7,573.2 L526.5,574.2 L528.2,573.9 L529.0,574.7 L529.8,575.5 L531.4,575.8 L533.0,574.8 L533.9,573.7 L534.7,572.9 L536.3,573.2 L537.2,572.6 L537.9,571.6 L539.5,572.1 L541.2,571.3 L542.8,570.0 L544.4,570.9 L546.0,572.2 L547.7,573.2 L548.5,571.7 L549.3,570.6 L550.1,569.1 L550.9,568.0 L551.8,566.5 L552.5,564.8 L553.4,564.2 L554.2,563.1 L554.9,562.1 L555.8,560.9 L556.4,559.2 L556.8,557.8 L557.4,556.6 L558.3,555.2 L559.0,553.4 L560.7,552.1 L562.3,553.1 L563.9,553.7 L564.7,553.0 L565.5,552.1 L566.3,551.4 L567.2,550.5 L568.8,549.8 L570.4,548.8 L572.0,548.2 L573.7,547.1 L574.8,546.2 L575.0,544.9 L575.3,542.7 L575.6,541.4 L575.8,539.3 L576.4,537.1 L576.6,534.9 L576.9,533.5 L577.4,531.4 L577.7,530.0 L578.3,528.9 L578.9,527.6 L579.4,526.1 L580.2,525.1 L580.8,523.3 L581.5,521.1 L582.8,519.9 L583.7,520.6 L584.4,521.5 L586.0,520.6 L586.8,519.0 L587.3,517.0 L588.1,516.1 L588.6,515.0 L589.9,514.6 L590.8,515.5 L591.5,516.2 L592.5,517.4 L593.2,518.6 L593.9,519.4 L594.8,520.2 L596.4,519.9 L597.2,518.8 L598.0,517.8 L598.8,516.2 L599.7,514.6 L600.5,513.0 L601.3,511.8 L602.9,510.5 L603.5,511.7 L604.2,512.9 L604.8,514.9 L605.4,517.0 L605.8,518.7 L606.1,520.7 L606.5,522.7 L607.0,524.4 L607.4,525.9 L607.8,527.6 L608.5,529.4 L609.4,530.8 L610.2,532.4 L611.0,534.1 L611.5,535.6 L612.2,537.5 L612.7,538.9 L613.1,541.1 L613.4,543.0 L613.9,544.9 L614.3,547.1 L614.7,549.0 L615.2,550.5 L615.5,552.7 L615.9,554.4 L616.8,555.9 L617.5,557.3 L619.2,556.3 L619.6,555.0 L620.0,553.1 L620.5,551.9 L620.7,549.8 L621.2,548.3 L621.4,546.7 L621.6,544.6 L622.0,542.6 L622.1,540.7 L622.5,539.3 L622.7,537.3 L623.2,535.6 L623.6,534.1 L624.0,532.4 L624.9,531.9 L625.7,530.8 L627.3,531.6 L628.2,532.8 L628.9,533.6 L630.1,534.9 L630.5,536.7 L631.0,538.8 L631.4,540.2 L632.0,542.2 L632.3,544.0 L632.9,545.3 L633.3,547.3 L633.6,548.6 L633.9,550.5 L634.3,552.7 L634.5,555.1 L634.9,556.9 L635.2,558.7 L635.5,560.5 L635.6,562.4 L635.9,564.0 L636.2,566.2 L636.8,567.9 L637.5,569.4 L638.1,568.0 L638.8,566.4 L639.1,564.3 L639.2,562.7 L639.6,560.6 L639.8,559.0 L640.1,556.9 L640.5,554.9 L640.7,553.3 L640.8,551.2 L641.1,549.8 L641.4,547.9 L642.7,547.0 L643.2,548.7 L643.5,550.2 L644.0,552.1 L644.3,553.9 L644.6,556.1 L644.9,558.0 L645.3,559.6 L645.9,561.9 L646.6,563.7 L647.2,562.7 L647.9,561.5 L648.3,559.7 L648.8,558.6 L649.2,556.9 L649.8,555.0 L650.5,552.8 L651.8,551.1 L652.5,553.1 L653.1,554.5 L653.3,556.1 L653.7,558.0 L654.2,559.8 L654.4,561.3 L654.7,563.0 L655.0,564.6 L655.1,566.8 L655.4,568.7 L655.7,570.2 L655.9,572.0 L656.3,573.7 L656.6,575.6 L657.0,577.8 L657.4,579.4 L657.9,581.1 L658.3,582.9 L659.2,584.5 L659.9,586.1 L660.5,587.5 L660.8,589.3 L661.2,590.9 L661.5,593.1 L661.7,595.1 L662.0,596.8 L662.3,598.9 L662.5,600.8 L662.7,602.7 L663.2,605.1 L663.2,607.4 L663.6,609.4 L663.8,611.6 L664.1,613.6 L664.3,615.1 L664.7,616.9 L664.9,618.5 L665.1,620.5 L665.5,622.5 L665.8,624.3 L666.0,626.4 L666.4,628.2 L666.8,630.4 L667.1,632.5 L667.3,634.3 L667.7,636.5 L668.2,638.5 L668.4,640.2 L668.7,641.8 L669.0,643.8 L669.6,645.5 L670.3,647.0 L670.9,644.9 L671.3,643.1 L671.5,640.9 L671.6,639.0 L671.7,637.1 L671.9,635.1 L672.0,633.4 L672.1,631.3 L672.3,629.5 L672.5,627.6 L672.6,625.8 L672.7,623.5 L672.8,621.9 L672.9,620.0 L673.0,617.8 L673.3,616.1 L673.3,614.0 L673.5,611.7 L673.7,609.6 L674.0,608.2 L674.1,605.7 L674.2,603.8 L675.2,602.4 L675.6,604.1 L675.9,606.2 L676.2,608.1 L676.4,610.1 L676.8,611.9 L677.2,613.5 L677.5,615.3 L678.4,616.4 L679.1,617.9 L680.7,618.9 L681.6,618.0 L682.4,617.2 L683.7,618.4 L685.0,617.0 L685.5,618.6 L686.3,620.3 L686.6,621.9 L687.2,623.8 L687.6,625.9 L688.1,627.4 L688.9,629.2 L689.5,630.4 L690.2,631.1 L690.9,629.7 L691.5,627.8 L692.2,625.9 L692.8,624.1 L693.5,624.9 L694.1,626.0 L695.4,627.6 L696.1,626.1 L696.7,624.3 L697.4,622.1 L698.0,620.3 L698.5,618.6 L699.3,616.4 L699.9,614.5 L700.6,612.3 L701.5,613.5 L701.9,615.4 L702.1,617.7 L702.3,619.8 L702.5,621.9 L702.6,624.3 L702.8,626.3 L703.2,628.1 L703.3,630.3 L703.5,632.5 L703.7,634.1 L704.1,636.0 L704.2,637.9 L704.5,639.7 L705.4,641.4 L705.6,639.4 L706.0,637.3 L706.1,634.7 L706.4,632.7 L706.6,630.7 L706.8,628.4 L707.0,626.1 L707.3,624.2 L707.4,622.1 L707.9,621.2 L708.4,620.0 L708.6,621.6 L709.0,623.1 L709.3,624.4 L709.9,626.3 L710.6,628.5 L711.9,628.3 L713.2,627.6 L714.5,627.8 L715.8,628.6 L717.1,629.8 L717.8,630.7 L718.4,631.7 L719.1,633.0 L719.7,634.2 L720.3,635.7 L721.0,637.3 L721.6,635.5 L722.3,633.3 L723.6,631.8 L724.9,633.4 L725.5,632.6 L726.2,631.4 L727.5,630.9 L728.2,632.2 L728.8,633.4 L729.5,634.7 L730.1,636.5 L730.9,638.0 L731.4,639.8 L732.2,641.2 L732.7,642.4 L734.0,644.0 L734.7,645.2 L735.3,646.0 L736.0,647.1 L736.6,648.0 L737.4,649.0 L737.9,650.4 L739.2,650.3 L739.8,648.2 L740.5,646.3 L740.8,644.3 L741.0,643.0 L741.3,640.8 L741.5,639.3 L741.8,637.5 L742.0,635.7 L742.4,633.9 L742.6,632.3 L742.8,630.6 L743.1,628.5 L743.3,626.2 L743.7,624.5 L743.9,622.3 L744.2,620.3 L744.4,618.4 L744.8,616.3 L745.1,614.6 L745.4,612.6 L745.7,610.6 L746.1,608.8 L746.6,606.6 L747.0,605.0 L748.3,603.2 L749.0,604.5 L749.6,605.6 L750.0,607.8 L750.6,609.2 L750.9,611.5 L751.2,613.0 L751.5,614.9 L751.9,616.8 L752.2,618.8 L752.5,620.7 L752.9,622.8 L753.3,624.3 L753.5,626.5 L753.9,628.0 L754.4,629.8 L754.8,631.8 L755.5,630.7 L756.1,629.3 L756.9,627.9 L757.4,626.8 L758.7,627.6 L759.1,629.4 L759.6,631.2 L760.0,632.6 L760.3,634.3 L760.6,636.5 L761.0,638.0 L761.3,639.9 L761.8,642.1 L762.3,644.0 L762.6,646.0 L763.2,647.8 L763.9,649.7 L764.4,648.0 L764.8,646.4 L765.2,644.7 L765.4,642.8 L765.6,640.7 L766.0,638.4 L766.2,636.6 L766.5,634.7 L766.9,632.0 L767.1,630.1 L767.8,628.6 L768.4,626.9 L770.1,627.7 L771.0,628.5 L771.7,629.3 L773.3,629.3 L774.9,630.1 L775.5,628.4 L776.2,626.9 L776.5,625.1 L776.6,623.1 L776.9,621.1 L776.9,619.0 L777.2,617.1 L777.4,615.2 L777.6,613.0 L777.9,611.1 L778.1,609.2 L778.2,607.4 L778.5,605.9 L778.8,604.3 L779.2,602.5 L780.1,603.3 L780.5,604.8 L781.1,605.7 L781.5,603.8 L782.1,601.7 L782.4,599.9 L782.7,598.4 L783.1,596.8 L784.0,596.0 L784.4,597.7 L784.7,599.7 L785.0,601.7 L785.4,603.4 L785.5,605.2 L785.9,607.1 L786.0,609.0 L786.4,611.0 L786.6,612.8 L786.9,614.2 L787.3,616.3 L787.7,618.2 L788.5,619.9 L788.9,622.0 L789.7,623.8 L790.5,625.2 L791.3,625.8 L792.2,626.9 L793.0,626.0 L793.8,625.2 L794.7,624.7 L795.4,623.6 L796.0,622.4 L796.7,621.2 L797.4,619.3 L798.0,617.9 L799.0,616.3 L799.5,617.8 L800.0,618.7 L800.4,620.8 L800.9,622.8 L801.6,623.8 L802.2,625.2 L803.5,626.9 L804.8,628.2 L806.1,629.3 L807.4,630.9 L808.7,631.7 L810.0,630.1 L810.8,628.3 L811.3,626.9 L812.6,625.2 L813.3,626.6 L813.9,627.7 L814.5,629.2 L815.2,630.9 L815.8,632.1 L816.5,633.4 L817.8,635.0 L818.4,636.8 L819.1,639.1 L819.7,640.8 L820.4,643.1 L821.0,645.0 L821.7,647.2 L822.4,648.6 L823.0,650.4 L824.3,652.1 L824.9,650.8 L825.3,649.6 L825.5,647.5 L825.8,645.4 L826.0,643.5 L826.2,641.8 L826.3,639.9 L826.5,638.1 L826.6,635.7 L826.9,634.1 L827.1,631.9 L827.3,630.1 L827.6,628.3 L827.9,626.9 L828.1,628.4 L828.4,630.0 L828.6,631.7 L828.7,633.7 L828.8,635.7 L829.1,637.3 L829.1,639.3 L829.4,641.4 L829.5,643.1 L829.8,645.0 L830.3,646.8 L830.5,648.8 L831.5,647.2 L832.1,645.4 L832.5,643.1 L833.1,642.2 L833.4,640.7 L834.7,641.5 L835.3,639.7 L836.0,637.4 L836.7,636.0 L837.3,635.0 L838.1,636.3 L838.6,637.4 L839.4,638.5 L839.9,639.5 L840.5,640.7 L841.2,641.5 L841.8,639.3 L842.5,637.4 L843.0,638.9 L843.4,640.8 L843.8,642.3 L844.8,643.9 L845.2,642.0 L845.8,639.9 L846.1,638.0 L846.7,636.2 L847.1,634.2 L847.4,632.4 L848.1,630.9 L848.4,629.3 L848.6,627.4 L848.9,625.8 L849.2,623.8 L849.4,622.0 L849.6,619.8 L849.6,617.9 L850.0,615.7 L850.1,613.3 L850.3,611.0 L850.3,609.0 L850.6,607.2 L850.8,605.3 L851.0,603.0 L851.2,601.2 L851.3,599.2 L851.5,597.1 L851.9,595.4 L852.1,593.3 L852.3,591.1 L852.5,588.9 L852.8,586.9 L853.0,584.8 L853.3,583.0 L853.5,581.5 L853.9,580.0 L854.2,578.1 L855.2,579.7 L855.5,582.1 L855.8,583.9 L856.2,586.2 L856.5,588.1 L856.8,590.5 L857.2,592.7 L857.4,590.8 L857.8,588.1 L858.1,586.2 L858.5,588.0 L858.5,589.9 L858.6,592.2 L858.9,594.0 L859.1,596.0 L859.2,598.0 L859.6,600.3 L859.7,602.7 L859.7,604.9 L859.8,607.0 L860.1,609.0 L860.3,611.3 L860.4,613.5 L860.5,615.5 L860.7,617.6 L860.8,620.0 L861.1,622.0 L861.3,624.0 L861.6,625.7 L861.9,627.7 L862.0,629.3 L862.2,627.4 L862.5,625.6 L862.4,623.7 L862.7,622.0 L862.9,620.2 L863.0,617.9 L863.2,615.9 L863.2,613.6 L863.5,611.4 L863.4,609.5 L863.7,607.4 L863.9,605.1 L864.0,603.3 L864.1,600.7 L864.3,598.6 L864.6,596.8 L864.6,594.4 L865.1,592.9 L865.6,591.1 L866.1,592.6 L866.6,594.4 L866.9,596.1 L866.9,598.2 L867.1,600.2 L867.4,602.4 L867.6,604.1 L867.9,606.5 L868.3,608.5 L868.5,610.6 L869.0,612.1 L869.5,613.9 L870.5,614.7 L870.8,612.7 L871.2,610.9 L871.5,609.0 L871.7,607.0 L872.1,604.8 L872.2,602.6 L872.4,600.9 L872.8,599.4 L873.4,598.4 L873.9,600.7 L874.4,602.5 L874.6,604.7 L874.9,606.4 L875.0,608.1 L875.1,610.2 L875.4,612.2 L875.6,614.2 L875.8,616.5 L876.0,618.7" stroke="#2e2e2e" stroke-width="0.95"/>
<path d="M423.2,514.5L389.6,544.8M415.6,557.2L398.2,572.8M429.6,591L401.1,614.2M403.6,620.7L436.1,641.3" stroke="#222" stroke-width="1"/>
</g>
<g font-size="11.6" text-anchor="middle">
<text transform="translate(307.0,342.2) scale(1.17,1.03)">9</text>
<text transform="translate(307.0,381.2) scale(1.17,1.03)">8</text>
<text transform="translate(307.0,420.2) scale(1.17,1.03)">7</text>
<text transform="translate(307.0,459.2) scale(1.17,1.03)">6</text>
<text transform="translate(307.0,498.2) scale(1.17,1.03)">5</text>
<text transform="translate(307.0,537.2) scale(1.17,1.03)">4</text>
<text transform="translate(307.0,576.2) scale(1.17,1.03)">3</text>
<text transform="translate(307.0,615.2) scale(1.17,1.03)">2</text>
<text transform="translate(307.0,654.2) scale(1.17,1.03)">1</text>
<text transform="translate(327.3,706.0) scale(1.17,1.03)">4 000</text><text transform="translate(632.3,705.6) scale(1.17,1.03)">2 000</text><text transform="translate(874.2,705.2) scale(1.17,1.03)">400</text>
</g>
<g font-size="13.2" text-anchor="middle">
<text x="428.2" y="511.6">a</text><text x="420.6" y="556.8">b</text><text x="433.3" y="591.2">c</text><text x="441.4" y="646.6">d</text>
</g>
<text x="597" y="731.5" font-size="14.3" textLength="53" lengthAdjust="spacingAndGlyphs">波数/cm</text><text x="651.5" y="725" font-size="9.5" letter-spacing="1.2">−1</text>
<text transform="translate(289.8,532) rotate(-90) scale(1,0.9)" font-size="14.3" font-weight="700" letter-spacing="0.3">反射率<tspan dx="0" font-weight="400" font-size="15">/%</tspan></text>
<g fill="none" stroke-linejoin="round" stroke-linecap="round">
<path d="M317.6,832.3H325.0M319.8,857.8H325.0M319.8,874.8H325.0M317.6,900.2H325.0M319.8,908.7H325.0M317.6,934.2H325.0M317.6,968.2H325.0M319.8,985.2H325.0M319.8,1010.6H325.0M317.6,1036.1H325.0M319.8,1061.6H325.0M319.8,1078.6H325.0M317.6,1104.1H325.0M319.8,1129.5H325.0M317.6,1138.0H325.0M319.8,1146.5H325.0M319.8,1155.0H325.0M319.8,1180.5H325.0M317.6,1206.0H325.0" stroke="#999" stroke-width="0.9" stroke-linecap="butt"/>
<path d="M319.8,840.8H325.0M319.8,849.3H325.0M317.6,866.3H325.0M319.8,883.3H325.0M319.8,891.7H325.0M319.8,917.2H325.0M319.8,925.7H325.0M319.8,942.7H325.0M319.8,951.2H325.0M319.8,959.7H325.0M319.8,976.7H325.0M319.8,993.7H325.0M317.6,1002.1H325.0M319.8,1019.1H325.0M319.8,1027.6H325.0M319.8,1044.6H325.0M319.8,1053.1H325.0M317.6,1070.1H325.0M319.8,1087.1H325.0M319.8,1095.6H325.0M319.8,1112.6H325.0M319.8,1121.0H325.0M319.8,1163.5H325.0M317.6,1172.0H325.0M319.8,1189.0H325.0M319.8,1197.5H325.0" stroke="#cdcdcd" stroke-width="1.1" stroke-linecap="butt"/>
<path d="M326.4,829.8H885.6" stroke="#9a9a9a" stroke-width="1.4"/>
<path d="M885.6,830.3V1208.0" stroke="#5a5a5a" stroke-width="1.3"/>
<path d="M326.4,829.3L324.9,1211.4" stroke="#111" stroke-width="2.3"/>
<path d="M323.9,1210.4L886.3000000000001,1208.0" stroke="#0c0c0c" stroke-width="3.3" stroke-linecap="butt"/>
<path d="M325.2,1211.6v3.4M400.5,1211.3v3.4M481,1210.9v3.4M558,1210.6v3.4M634.7,1210.3v3.4M715.6,1209.9v3.4M792.7,1209.6v3.4M870.9,1209.3v3.4" stroke="#9a9a9a" stroke-width="0.9"/>
<path d="M326.4,939.9 L327.6,939.3 L328.8,938.8 L330.0,938.4 L331.2,937.8 L332.3,938.5 L333.2,939.1 L333.9,940.4 L334.8,941.6 L336.4,942.0 L337.6,941.2 L338.6,939.9 L339.8,938.9 L341.0,938.3 L342.3,937.2 L343.4,935.9 L344.1,934.7 L344.9,933.4 L345.5,931.8 L346.1,930.5 L346.8,929.0 L347.5,927.7 L348.5,926.6 L349.4,925.3 L351.6,924.8 L352.6,925.5 L353.7,926.1 L354.7,924.7 L355.6,923.2 L356.5,921.9 L357.2,920.4 L358.5,919.9 L359.5,921.2 L360.2,922.9 L361.1,924.1 L362.1,925.3 L363.7,926.1 L364.8,928.0 L365.7,929.4 L366.5,930.6 L367.3,931.8 L368.2,933.0 L368.9,934.2 L369.3,936.6 L369.5,938.5 L369.9,940.7 L370.2,942.4 L370.3,944.3 L370.4,946.6 L370.5,948.3 L370.7,950.3 L370.9,952.1 L371.1,954.1 L371.2,956.0 L371.5,958.0 L371.6,959.6 L371.7,961.5 L371.9,963.5 L372.0,965.6 L372.2,967.4 L372.5,969.6 L372.6,971.2 L372.8,973.2 L373.1,975.5 L373.3,977.5 L373.6,979.4 L373.8,981.4 L374.2,983.3 L374.4,985.5 L374.8,987.9 L375.1,989.4 L375.5,991.2 L375.8,992.7 L376.0,994.8 L376.4,996.4 L376.7,998.4 L377.1,1000.5 L377.3,1002.4 L377.7,1004.1 L378.1,1005.6 L378.3,1007.6 L378.7,1009.0 L379.4,1010.4 L380.0,1012.2 L380.5,1014.0 L380.9,1015.7 L381.3,1017.1 L381.8,1018.7 L382.2,1020.6 L382.6,1022.0 L383.2,1024.1 L383.9,1026.1 L384.6,1027.9 L385.2,1029.3 L386.0,1030.0 L386.8,1030.9 L387.6,1031.8 L388.4,1032.6 L390.1,1033.4 L390.8,1034.8 L391.7,1035.8 L393.3,1036.9 L395.4,1036.6 L396.7,1036.9 L397.9,1037.4 L399.1,1037.9 L400.3,1038.2 L401.5,1038.8 L402.7,1039.1 L404.0,1038.1 L405.2,1037.4 L406.3,1036.9 L407.6,1036.6 L408.9,1035.8 L410.1,1035.0 L411.3,1035.2 L412.5,1035.8 L413.6,1034.9 L414.9,1034.2 L416.2,1034.3 L417.4,1034.7 L418.5,1034.1 L419.8,1033.4 L420.9,1033.0 L422.2,1032.6 L423.4,1032.8 L424.7,1033.4 L425.9,1032.7 L427.1,1031.7 L428.3,1031.3 L429.6,1030.9 L430.7,1030.6 L432.0,1030.4 L433.2,1030.3 L434.4,1029.8 L435.7,1029.7 L436.9,1029.3 L438.1,1029.8 L439.3,1030.1 L440.5,1029.9 L441.7,1029.8 L442.9,1029.4 L444.2,1029.3 L445.5,1028.9 L446.6,1028.8 L447.8,1028.4 L449.1,1028.2 L450.4,1028.8 L451.5,1029.3 L452.7,1029.0 L453.9,1028.8 L455.2,1028.5 L456.4,1027.7 L457.6,1027.3 L458.8,1026.9 L460.1,1026.9 L461.2,1027.2 L462.4,1027.6 L463.7,1028.5 L464.9,1029.4 L466.1,1030.1 L467.3,1030.7 L468.6,1031.4 L469.9,1031.7 L471.0,1032.1 L472.2,1032.1 L473.4,1031.7 L475.1,1031.4 L476.3,1030.9 L477.3,1030.4 L478.9,1031.7 L479.7,1033.0 L480.6,1034.2 L481.4,1035.8 L482.2,1036.9 L483.8,1038.2 L484.7,1037.3 L485.4,1036.6 L486.3,1034.5 L487.1,1032.6 L487.9,1031.3 L488.7,1030.1 L490.3,1029.3 L491.2,1027.9 L491.9,1026.1 L492.8,1024.4 L493.6,1022.8 L494.2,1024.3 L494.7,1026.1 L495.4,1027.8 L496.0,1029.3 L497.0,1028.7 L497.9,1028.2 L499.1,1027.3 L500.1,1026.9 L501.2,1025.8 L502.2,1024.4 L503.1,1023.0 L504.1,1021.2 L506.1,1022.0 L507.1,1021.7 L508.2,1021.2 L509.4,1020.3 L510.6,1019.6 L511.8,1019.1 L513.1,1018.4 L514.3,1017.7 L515.5,1017.4 L516.8,1017.6 L517.9,1017.9 L519.1,1017.5 L520.4,1017.1 L521.6,1017.2 L522.8,1016.8 L524.1,1016.6 L525.2,1016.3 L526.4,1016.4 L527.7,1016.8 L528.8,1016.6 L530.1,1016.3 L531.4,1016.7 L532.6,1017.1 L533.9,1016.3 L535.0,1015.5 L536.6,1016.3 L537.4,1017.3 L538.2,1018.4 L539.9,1019.1 L541.0,1018.5 L542.3,1017.4 L543.5,1017.7 L544.7,1017.9 L546.0,1017.4 L547.2,1017.1 L548.4,1017.5 L549.6,1017.9 L550.8,1018.4 L552.1,1018.4 L553.3,1018.0 L554.5,1017.9 L555.6,1018.2 L556.9,1018.7 L558.1,1018.2 L559.4,1017.4 L560.7,1016.7 L561.8,1016.3 L563.1,1015.9 L564.2,1015.5 L565.5,1015.9 L566.7,1016.3 L567.8,1015.7 L569.1,1015.5 L570.4,1015.2 L571.6,1014.7 L572.8,1015.3 L574.0,1015.5 L575.3,1014.6 L576.4,1013.9 L577.4,1012.7 L578.5,1011.4 L579.4,1012.1 L580.2,1013.1 L580.6,1011.8 L581.3,1010.6 L581.8,1012.5 L582.4,1014.2 L582.9,1012.4 L583.3,1010.6 L583.7,1009.0 L584.3,1010.9 L585.0,1013.1 L586.1,1012.2 L587.0,1011.4 L588.3,1011.6 L589.4,1011.9 L590.7,1011.5 L591.9,1010.9 L592.9,1011.5 L593.8,1012.2 L594.9,1011.1 L595.9,1010.3 L597.2,1010.1 L598.4,1009.8 L599.6,1010.7 L600.8,1011.4 L601.9,1011.9 L603.2,1012.6 L604.4,1012.4 L605.7,1011.9 L606.8,1011.4 L608.1,1010.9 L609.4,1010.9 L610.6,1010.6 L611.4,1011.3 L612.2,1012.2 L612.9,1014.0 L613.8,1015.5 L614.6,1016.4 L615.4,1017.1 L616.6,1018.5 L617.9,1019.6 L619.1,1020.9 L620.3,1022.0 L621.6,1023.2 L622.7,1024.4 L624.1,1025.0 L625.2,1026.1 L626.5,1025.4 L627.6,1025.2 L628.8,1024.8 L630.1,1024.4 L631.2,1023.6 L632.3,1022.9 L633.5,1022.8 L634.7,1022.3 L636.4,1022.6 L637.4,1024.0 L638.3,1025.1 L639.4,1025.9 L640.4,1027.2 L641.5,1028.2 L642.5,1029.4 L643.5,1030.0 L644.5,1031.1 L645.7,1030.8 L646.9,1030.4 L648.2,1029.8 L649.4,1029.1 L650.2,1030.1 L651.0,1030.7 L652.0,1031.8 L652.9,1033.2 L654.0,1034.0 L655.1,1034.8 L656.2,1035.1 L657.2,1035.6 L659.1,1035.9 L660.1,1036.7 L661.1,1037.6 L662.0,1038.6 L663.2,1039.7 L664.3,1040.9 L665.3,1042.1 L666.2,1043.5 L667.2,1044.6 L668.0,1045.9 L668.9,1047.0 L669.6,1048.4 L670.5,1050.2 L671.3,1051.9 L672.1,1053.5 L672.7,1055.7 L673.4,1057.6 L673.9,1059.1 L674.2,1060.9 L674.6,1062.4 L675.0,1064.2 L675.4,1066.5 L675.7,1068.1 L675.9,1069.7 L676.3,1071.2 L676.7,1073.0 L677.1,1074.4 L677.5,1075.4 L677.8,1073.6 L678.3,1071.4 L678.4,1069.0 L678.6,1067.1 L678.5,1064.9 L678.6,1062.8 L678.7,1060.8 L678.9,1058.8 L678.9,1056.7 L679.0,1054.7 L679.1,1052.7 L679.1,1050.8 L679.2,1048.5 L679.2,1046.3 L679.2,1044.5 L679.4,1042.1 L679.5,1040.4 L679.4,1038.2 L679.5,1036.1 L679.6,1034.0 L679.7,1031.8 L679.7,1029.7 L679.8,1027.6 L679.9,1025.6 L679.9,1023.3 L679.9,1020.9 L680.0,1018.7 L680.2,1016.5 L680.2,1014.5 L680.4,1012.2 L680.5,1010.5 L680.5,1008.1 L680.8,1006.1 L680.9,1004.0 L680.9,1002.2 L681.1,999.9 L681.3,998.5 L681.7,996.5 L681.9,995.0 L682.7,996.6 L682.9,998.9 L683.0,1000.9 L683.4,1002.8 L683.5,1004.7 L683.7,1006.5 L684.0,1008.4 L684.1,1010.7 L684.2,1012.6 L684.5,1014.5 L684.7,1016.7 L684.9,1018.8 L685.2,1020.7 L685.4,1022.6 L685.8,1024.4 L686.1,1025.9 L686.3,1027.5 L686.7,1029.1 L687.3,1031.3 L688.0,1033.2 L688.7,1034.4 L689.3,1035.6 L690.1,1037.1 L690.6,1038.1 L691.9,1039.2 L693.2,1040.5 L694.0,1041.5 L694.5,1042.9 L695.2,1044.7 L695.8,1046.2 L697.1,1047.0 L697.8,1044.7 L698.4,1042.9 L699.2,1041.7 L699.7,1040.5 L701.0,1042.1 L702.3,1043.7 L703.6,1043.4 L704.9,1044.6 L706.2,1046.2 L706.9,1048.0 L707.5,1049.4 L707.9,1050.8 L708.5,1052.6 L708.8,1054.3 L709.2,1056.0 L709.8,1058.2 L710.1,1060.0 L710.4,1061.7 L710.9,1063.9 L711.1,1065.7 L711.6,1066.6 L712.1,1067.8 L712.4,1066.5 L712.6,1064.7 L713.1,1063.2 L713.1,1061.3 L713.3,1059.1 L713.6,1056.9 L713.6,1054.7 L713.9,1052.4 L714.0,1050.2 L714.1,1048.3 L714.4,1046.2 L714.6,1044.4 L714.7,1042.3 L714.9,1040.5 L715.2,1039.4 L715.5,1038.1 L715.8,1040.2 L716.1,1041.9 L716.3,1043.7 L716.6,1045.6 L716.6,1047.6 L716.9,1049.4 L717.1,1051.3 L717.3,1053.5 L717.9,1055.1 L718.3,1056.7 L719.0,1055.6 L719.6,1054.3 L720.3,1053.2 L720.9,1051.9 L722.2,1051.1 L723.5,1052.7 L724.1,1054.4 L724.8,1055.9 L725.4,1058.0 L726.1,1060.0 L726.7,1061.4 L727.4,1062.4 L728.0,1063.6 L728.7,1064.9 L729.2,1063.8 L729.6,1062.4 L730.2,1061.0 L730.6,1060.0 L731.9,1061.6 L732.4,1063.5 L732.9,1065.7 L733.4,1067.0 L733.9,1068.1 L734.4,1066.6 L734.8,1064.9 L735.3,1063.3 L735.8,1061.6 L736.8,1061.3 L737.4,1063.2 L737.8,1064.9 L738.1,1067.1 L738.4,1069.3 L738.7,1071.4 L739.1,1073.4 L739.4,1075.7 L739.7,1077.9 L740.0,1079.8 L740.3,1081.6 L740.7,1083.6 L741.0,1085.1 L741.4,1086.6 L741.7,1088.4 L742.1,1090.6 L742.6,1092.5 L743.1,1094.1 L743.6,1095.7 L744.3,1097.7 L744.9,1099.8 L745.5,1100.6 L746.2,1101.9 L747.5,1100.6 L747.9,1099.2 L748.1,1097.4 L748.5,1095.7 L748.6,1093.6 L748.9,1092.1 L748.9,1089.9 L749.2,1088.3 L749.3,1086.2 L749.5,1084.4 L749.5,1082.5 L749.8,1080.5 L749.8,1078.3 L750.1,1076.4 L750.1,1074.0 L750.1,1072.3 L750.2,1070.3 L750.4,1068.1 L750.6,1066.1 L750.7,1064.4 L750.8,1062.0 L750.9,1060.1 L750.9,1058.4 L751.1,1056.0 L751.2,1054.1 L751.3,1052.1 L751.4,1050.2 L751.6,1048.5 L751.7,1046.6 L751.9,1044.8 L752.2,1042.6 L752.3,1040.6 L752.4,1038.9 L752.9,1037.3 L753.4,1035.6 L753.7,1033.9 L753.9,1032.2 L754.3,1030.7 L754.7,1028.4 L755.0,1026.5 L755.3,1024.2 L755.9,1023.0 L756.3,1021.8 L756.7,1023.9 L757.3,1025.9 L757.4,1028.0 L757.6,1029.7 L757.8,1031.9 L758.0,1033.5 L758.2,1035.6 L758.3,1037.4 L758.5,1039.4 L758.8,1041.3 L758.9,1043.2 L759.1,1045.3 L759.2,1047.0 L759.4,1049.4 L759.5,1051.6 L759.7,1053.6 L759.8,1055.5 L760.0,1058.0 L760.2,1060.0 L760.3,1062.0 L760.5,1063.8 L760.6,1065.5 L760.8,1067.7 L761.0,1069.2 L761.2,1071.4 L761.4,1073.3 L761.5,1075.2 L761.7,1077.4 L762.0,1079.1 L762.1,1081.1 L762.6,1082.2 L763.1,1083.6 L763.3,1081.7 L763.7,1080.0 L763.9,1078.3 L764.1,1076.2 L764.4,1074.0 L764.5,1072.0 L764.8,1070.2 L765.1,1068.1 L765.6,1066.1 L766.0,1064.1 L766.5,1065.1 L767.0,1066.5 L767.4,1068.8 L767.6,1070.6 L768.0,1073.0 L768.4,1075.0 L768.7,1077.1 L769.0,1079.5 L769.3,1081.0 L769.7,1082.6 L769.9,1084.4 L770.2,1085.8 L770.7,1087.9 L770.9,1089.2 L771.4,1091.0 L771.9,1092.5 L772.2,1090.8 L772.5,1089.5 L772.9,1087.6 L772.9,1085.8 L773.2,1083.7 L773.3,1082.1 L773.5,1079.9 L773.7,1078.2 L773.8,1076.2 L774.0,1074.1 L774.2,1072.0 L774.1,1070.0 L774.3,1068.1 L774.5,1066.2 L774.7,1064.0 L774.6,1062.2 L774.8,1060.0 L774.8,1057.9 L775.0,1056.0 L775.2,1053.7 L775.3,1052.0 L775.5,1049.6 L775.6,1048.0 L775.7,1045.6 L775.8,1043.7 L776.0,1041.6 L776.0,1039.4 L776.2,1037.3 L776.3,1035.4 L776.5,1033.3 L776.7,1031.0 L776.8,1029.1 L776.9,1027.5 L777.1,1025.6 L777.1,1023.5 L777.5,1021.6 L777.9,1019.7 L778.1,1017.8 L778.4,1019.3 L778.7,1021.2 L779.1,1022.7 L779.4,1024.5 L779.8,1026.3 L780.1,1028.4 L781.0,1030.0 L781.6,1028.9 L782.0,1027.6 L782.7,1029.0 L783.3,1030.0 L783.6,1031.4 L784.0,1033.3 L784.3,1034.8 L784.6,1036.5 L785.2,1038.7 L785.9,1040.6 L787.2,1042.2 L788.5,1043.8 L788.8,1046.1 L789.1,1048.1 L789.5,1050.3 L790.0,1048.4 L790.5,1046.2 L791.4,1045.4 L791.8,1047.2 L792.0,1049.0 L792.3,1051.0 L792.4,1052.7 L792.7,1054.7 L792.9,1057.0 L793.2,1058.7 L793.4,1060.9 L793.6,1062.6 L794.1,1064.4 L794.4,1066.6 L795.1,1068.2 L795.7,1069.8 L796.3,1071.0 L797.0,1072.2 L797.6,1073.9 L798.3,1075.5 L798.8,1077.3 L799.6,1078.7 L800.1,1080.6 L800.9,1082.8 L801.3,1084.8 L801.8,1086.7 L802.2,1088.5 L802.7,1089.9 L802.9,1091.6 L803.5,1093.4 L804.2,1094.8 L804.8,1096.6 L805.4,1098.0 L806.1,1099.1 L806.8,1099.9 L807.7,1100.7 L809.3,1101.5 L810.9,1100.7 L811.7,1099.6 L812.2,1098.2 L812.7,1096.6 L813.1,1095.2 L813.5,1093.4 L814.3,1092.2 L814.8,1090.9 L815.5,1089.8 L816.1,1088.5 L816.5,1086.5 L816.8,1084.4 L817.1,1082.0 L817.3,1080.1 L817.5,1078.4 L817.6,1076.5 L817.7,1074.6 L818.0,1072.5 L818.1,1070.6 L818.5,1068.3 L818.7,1066.4 L819.1,1064.1 L820.0,1062.5 L821.0,1064.1 L821.4,1065.7 L821.8,1067.4 L822.0,1069.0 L822.2,1070.4 L822.6,1072.3 L823.0,1073.9 L823.4,1075.4 L823.9,1077.1 L824.3,1078.5 L824.7,1080.5 L824.9,1082.0 L825.3,1083.6 L825.5,1085.3 L825.9,1086.9 L826.2,1088.7 L826.6,1090.2 L826.9,1091.7 L827.3,1093.2 L827.4,1094.9 L827.8,1096.6 L828.1,1098.2 L828.6,1100.0 L828.8,1101.5 L829.2,1103.0 L829.4,1104.5 L829.8,1106.4 L830.8,1108.3 L831.7,1108.0 L832.2,1106.1 L832.7,1104.7 L832.8,1102.6 L832.9,1100.7 L833.0,1098.6 L833.1,1096.7 L833.2,1094.6 L833.2,1092.5 L833.2,1090.5 L833.4,1088.5 L833.4,1086.2 L833.5,1084.5 L833.5,1082.3 L833.5,1079.9 L833.5,1078.1 L833.7,1075.6 L833.5,1073.6 L833.6,1071.6 L833.6,1069.7 L833.7,1067.4 L833.8,1065.5 L833.8,1063.1 L833.9,1061.3 L834.1,1059.2 L834.1,1056.9 L834.3,1055.1 L834.3,1052.7 L834.5,1050.5 L834.5,1048.9 L834.6,1046.9 L834.6,1044.4 L834.8,1042.5 L834.8,1040.5 L834.9,1038.7 L835.0,1036.5 L835.2,1034.5 L835.2,1032.3 L835.3,1029.9 L835.6,1027.7 L835.6,1025.6 L835.8,1027.8 L835.9,1030.1 L836.1,1031.9 L836.3,1034.1 L836.3,1036.5 L836.4,1038.5 L836.4,1040.3 L836.6,1042.7 L836.6,1044.8 L836.8,1046.9 L836.8,1048.6 L836.9,1051.0 L836.9,1052.7 L837.2,1054.5 L837.5,1056.0 L837.6,1057.6 L838.1,1056.2 L838.6,1054.4 L839.2,1052.9 L839.9,1051.1 L840.1,1049.0 L840.5,1046.6 L840.8,1044.6 L841.1,1042.7 L841.1,1040.8 L841.4,1038.9 L841.4,1036.8 L841.7,1035.0 L841.8,1033.2 L841.9,1031.2 L842.2,1029.1 L842.2,1026.5 L842.5,1024.6 L842.6,1022.2 L842.8,1020.2 L842.9,1018.2 L843.1,1016.7 L843.2,1014.3 L843.5,1012.5 L843.6,1010.7 L843.8,1008.9 L844.0,1006.9 L844.1,1005.1 L844.2,1003.1 L844.5,1001.2 L844.6,999.2 L844.7,997.5 L845.0,995.4 L845.4,993.4 L845.7,991.0 L845.9,989.1 L846.2,986.9 L846.4,985.0 L846.7,982.9 L847.1,981.2 L847.3,979.7 L847.7,978.0 L848.0,975.8 L848.3,973.6 L848.6,971.5 L848.9,969.5 L849.2,967.2 L849.3,965.0 L849.4,962.9 L849.6,961.1 L849.6,959.1 L849.9,956.9 L849.9,955.0 L850.3,953.3 L850.4,951.9 L850.6,950.1 L850.8,947.9 L851.1,945.6 L851.2,943.6 L851.7,942.4 L852.2,941.2 L852.5,943.1 L852.7,945.1 L852.9,946.9 L853.8,945.2 L853.9,943.1 L854.0,941.3 L854.1,939.4 L854.4,937.3 L854.5,935.5 L854.7,933.5 L854.8,931.5 L854.9,929.7 L855.0,927.8 L855.1,925.7 L855.3,923.5 L855.5,921.6 L855.8,919.2 L856.4,917.6 L856.8,919.0 L857.1,920.9 L857.4,922.5 L858.4,920.9 L858.8,919.1 L859.1,917.6 L859.4,916.0 L859.6,913.9 L859.8,912.2 L860.2,910.1 L860.3,907.9 L860.5,906.1 L860.5,903.8 L860.7,902.3 L860.8,900.2 L860.8,898.6 L861.0,896.5 L861.2,894.2 L861.3,892.4 L861.4,890.6 L861.6,888.4 L862.1,886.5 L862.3,884.3 L862.7,885.5 L863.3,886.7 L863.4,889.0 L863.8,891.2 L863.9,893.2 L864.3,891.2 L864.5,889.3 L864.9,887.6 L865.5,888.9 L865.9,890.0 L866.8,889.2 L867.3,891.1 L867.8,893.2 L868.1,895.1 L868.3,897.1 L868.7,899.3 L868.8,901.4 L869.4,903.0 L869.8,901.0 L870.1,898.9 L870.4,896.5 L870.7,894.5 L870.9,892.0 L871.1,890.0 L871.2,888.0 L871.3,886.1 L871.5,884.1 L871.5,882.2 L871.7,880.5 L871.7,878.6 L872.1,877.0 L872.4,875.4 L872.6,877.2 L872.6,879.4 L872.8,881.4 L872.9,883.3 L873.0,885.1 L873.3,883.5 L873.4,881.9 L873.7,880.2 L873.9,878.4 L874.3,876.8 L874.6,875.4 L874.8,873.5 L875.2,871.4 L875.3,869.4 L875.6,867.2 L875.9,865.3 L876.1,863.2 L876.3,861.0 L876.6,859.1 L877.0,858.1 L877.6,856.7 L877.9,858.8 L878.2,860.4 L878.5,862.4 L878.7,864.2 L878.8,866.6 L879.0,868.8 L879.1,870.8 L879.3,873.0 L879.4,874.7 L879.5,877.0 L879.7,879.3 L879.7,881.1 L879.8,883.6 L879.9,885.4 L880.1,887.6 L880.1,889.9 L880.2,891.9 L880.3,894.2 L880.5,896.5 L880.6,898.5 L880.7,900.5 L880.8,902.8 L881.0,904.6 L881.0,906.5 L881.3,908.7 L881.3,910.9 L881.5,912.7 L881.9,910.4 L882.1,908.4 L882.4,906.2 L882.5,904.0 L882.7,902.0 L882.8,899.8 L882.9,897.4 L882.9,895.6 L883.2,893.5 L883.1,891.2 L883.2,888.8 L883.4,886.7 L883.4,884.8 L883.6,882.7 L883.6,880.6 L883.7,878.3 L883.9,876.1 L883.9,873.9 L884.1,871.8 L884.0,869.7 L884.2,867.8 L884.2,865.6 L884.3,863.7 L884.4,861.3 L884.4,859.1 L884.4,857.0 L884.5,855.0 L884.7,853.0 L884.6,850.7 L884.8,848.7 L884.7,846.4 L884.9,844.5 L885.0,842.4 L885.0,840.3 L885.1,838.0 L885.2,835.8 L885.4,833.6 L885.4,831.5" stroke="#2e2e2e" stroke-width="0.95"/>
<path d="M326.4,1006.6 L327.6,1006.2 L328.8,1005.7 L330.1,1005.3 L331.2,1004.4 L332.3,1003.1 L333.2,1001.7 L334.8,1002.5 L335.9,1004.2 L336.9,1005.7 L338.1,1006.8 L339.0,1007.4 L340.1,1006.4 L341.0,1005.7 L342.2,1004.5 L343.4,1003.3 L344.4,1002.2 L345.5,1000.9 L346.3,998.9 L347.2,996.8 L348.0,995.1 L348.8,993.6 L350.7,992.7 L351.8,993.5 L352.7,994.0 L353.8,993.2 L354.6,991.9 L355.7,992.6 L356.6,993.6 L357.4,991.9 L358.2,990.3 L359.7,991.1 L360.6,993.1 L361.3,995.2 L362.9,996.0 L363.7,997.4 L364.6,999.2 L365.4,1000.5 L366.2,1001.7 L367.2,1001.9 L368.3,1002.5 L368.6,1003.9 L368.9,1005.7 L369.2,1007.4 L369.6,1009.0 L369.9,1010.9 L370.0,1012.7 L370.4,1015.1 L370.6,1016.7 L370.9,1018.7 L371.1,1020.8 L371.4,1022.8 L371.6,1024.4 L371.9,1026.5 L372.2,1028.5 L372.4,1030.3 L372.7,1032.3 L372.9,1034.4 L373.1,1036.1 L373.3,1037.9 L373.5,1039.9 L373.7,1042.1 L374.0,1043.8 L374.2,1045.8 L374.5,1047.7 L374.8,1049.6 L375.1,1051.9 L375.4,1053.6 L375.9,1055.6 L376.1,1057.7 L376.4,1059.4 L376.8,1060.8 L377.0,1062.8 L377.4,1064.2 L377.7,1065.8 L378.3,1067.6 L378.7,1069.1 L379.2,1070.6 L379.6,1072.3 L380.0,1074.0 L380.6,1075.9 L381.2,1077.8 L381.6,1079.7 L382.4,1081.5 L383.2,1083.7 L384.1,1085.6 L384.9,1087.8 L385.6,1089.6 L386.5,1091.1 L387.3,1092.5 L388.1,1093.5 L389.0,1094.7 L390.1,1095.9 L391.1,1096.5 L392.2,1097.6 L393.4,1098.3 L394.6,1098.7 L395.9,1098.7 L397.1,1098.7 L398.3,1098.7 L399.5,1098.4 L400.8,1098.6 L401.9,1098.7 L403.1,1098.6 L404.4,1098.0 L405.5,1098.1 L406.8,1098.4 L408.0,1098.0 L409.2,1097.6 L410.5,1097.1 L411.7,1096.7 L412.9,1096.2 L414.1,1095.9 L415.4,1095.5 L416.6,1095.1 L417.7,1094.9 L419.0,1094.3 L420.3,1094.8 L421.4,1094.8 L422.8,1093.9 L423.9,1093.5 L425.1,1093.1 L426.3,1092.7 L427.5,1093.0 L428.7,1093.2 L430.0,1092.3 L431.2,1091.9 L432.4,1092.3 L433.6,1092.2 L434.9,1091.8 L436.1,1091.5 L437.2,1091.7 L438.5,1091.9 L439.7,1091.6 L440.9,1091.1 L442.1,1090.7 L443.4,1090.6 L444.7,1090.2 L445.8,1090.2 L447.1,1090.2 L448.2,1090.6 L449.5,1090.2 L450.7,1089.9 L452.0,1089.9 L453.1,1090.2 L454.4,1089.7 L455.6,1089.4 L456.7,1089.5 L458.0,1089.9 L459.1,1090.0 L460.4,1090.2 L461.7,1090.8 L462.9,1091.5 L464.1,1091.9 L465.3,1092.7 L466.5,1093.1 L467.7,1093.5 L468.9,1093.9 L470.2,1094.3 L471.4,1094.0 L472.6,1093.8 L473.9,1093.8 L475.1,1093.5 L476.1,1093.1 L477.3,1093.2 L478.0,1094.0 L478.9,1095.1 L479.8,1096.6 L480.6,1097.6 L481.5,1099.0 L482.2,1100.0 L482.9,1101.0 L483.8,1101.6 L485.4,1100.8 L486.3,1099.6 L487.1,1098.4 L488.4,1097.6 L489.5,1096.7 L490.6,1095.4 L491.9,1094.3 L492.9,1093.6 L494.0,1092.7 L495.0,1093.9 L496.0,1094.8 L497.1,1093.5 L498.4,1092.7 L499.8,1091.8 L500.9,1091.1 L502.0,1090.4 L503.3,1089.4 L504.5,1088.8 L505.7,1087.8 L507.0,1087.0 L508.2,1086.2 L509.4,1085.5 L510.6,1085.4 L511.9,1084.5 L513.1,1083.4 L514.3,1082.8 L515.5,1082.1 L516.6,1082.4 L517.9,1082.9 L519.2,1083.0 L520.4,1083.4 L521.5,1082.2 L522.8,1081.3 L524.1,1080.5 L525.2,1079.7 L526.4,1079.5 L527.7,1078.9 L528.9,1078.6 L530.1,1078.5 L531.4,1079.0 L532.6,1079.2 L533.8,1079.4 L535.0,1079.7 L536.2,1080.3 L537.4,1080.5 L538.7,1080.5 L539.9,1080.8 L541.1,1081.0 L542.3,1081.3 L543.5,1081.2 L544.7,1080.8 L545.9,1080.7 L547.2,1080.5 L548.4,1081.0 L549.6,1081.3 L550.9,1081.5 L552.1,1081.8 L553.3,1081.9 L554.5,1082.1 L555.7,1081.7 L556.9,1081.3 L558.2,1080.9 L559.4,1080.8 L560.6,1080.7 L561.8,1080.5 L563.0,1080.0 L564.2,1079.7 L565.5,1079.5 L566.7,1078.9 L568.0,1078.6 L569.1,1078.5 L570.3,1078.4 L571.6,1078.1 L572.7,1078.0 L574.0,1077.6 L575.3,1077.7 L576.4,1078.1 L577.6,1077.7 L578.9,1077.2 L580.0,1078.0 L581.3,1078.9 L582.2,1077.3 L582.9,1075.6 L583.8,1073.8 L584.6,1072.4 L585.3,1073.1 L586.2,1074.0 L587.8,1073.2 L588.9,1074.1 L590.2,1074.8 L591.5,1074.6 L592.7,1074.0 L593.8,1073.8 L594.8,1073.2 L595.8,1072.4 L596.7,1071.6 L597.9,1072.4 L599.2,1073.2 L600.5,1073.7 L601.6,1074.3 L602.7,1074.7 L604.1,1075.3 L605.2,1075.1 L606.5,1074.8 L607.7,1074.2 L608.9,1073.7 L610.2,1073.6 L611.4,1073.2 L612.1,1074.2 L613.0,1075.6 L613.8,1077.3 L614.6,1078.9 L615.5,1079.7 L616.2,1080.5 L617.1,1081.7 L618.2,1082.9 L619.3,1084.2 L620.3,1085.4 L621.4,1086.0 L622.7,1087.0 L624.0,1087.4 L625.2,1087.8 L626.3,1087.7 L627.6,1087.3 L628.9,1086.9 L630.1,1086.2 L631.2,1085.3 L632.3,1084.0 L634.4,1083.6 L636.4,1084.4 L637.3,1085.3 L638.3,1086.3 L639.4,1087.5 L640.4,1088.9 L641.4,1090.1 L642.5,1090.9 L644.5,1091.7 L645.5,1090.6 L646.4,1090.1 L648.1,1088.9 L649.7,1090.1 L650.4,1091.3 L651.3,1092.5 L652.2,1093.8 L652.9,1094.9 L654.6,1095.7 L656.2,1094.9 L657.8,1094.1 L658.7,1094.7 L659.4,1095.7 L660.3,1096.8 L661.1,1098.2 L661.9,1099.2 L662.7,1100.6 L663.5,1101.4 L664.3,1102.6 L665.2,1103.7 L665.9,1104.7 L666.8,1105.9 L667.6,1106.8 L668.3,1108.0 L669.2,1108.7 L670.0,1110.2 L670.8,1111.2 L671.6,1112.6 L672.4,1114.4 L673.1,1116.3 L673.7,1118.5 L674.3,1120.1 L674.7,1121.7 L675.0,1123.4 L675.4,1125.1 L676.0,1126.6 L676.3,1128.2 L676.8,1129.8 L677.3,1131.5 L677.7,1129.2 L677.9,1127.2 L678.3,1125.0 L678.4,1122.7 L678.5,1121.2 L678.6,1119.0 L678.7,1116.7 L678.8,1115.0 L679.0,1112.6 L679.1,1110.8 L679.1,1108.7 L679.2,1106.7 L679.3,1104.3 L679.4,1102.1 L679.4,1100.3 L679.6,1097.9 L679.7,1095.7 L679.7,1093.6 L679.7,1091.3 L679.9,1089.2 L680.0,1087.3 L680.3,1085.0 L680.3,1082.9 L680.4,1080.7 L680.6,1078.5 L680.7,1076.2 L681.2,1074.5 L681.5,1073.0 L682.1,1074.2 L682.5,1075.4 L682.8,1077.4 L683.0,1079.0 L683.2,1080.7 L683.5,1082.7 L683.9,1084.9 L684.1,1086.8 L684.5,1088.6 L684.8,1090.9 L685.2,1092.6 L685.7,1094.1 L686.1,1095.7 L686.7,1096.8 L687.4,1098.2 L688.7,1099.8 L690.0,1101.4 L691.3,1102.2 L692.6,1103.1 L693.9,1103.9 L695.2,1105.5 L695.9,1106.6 L696.5,1107.9 L697.8,1107.1 L698.5,1106.1 L699.1,1104.7 L700.4,1105.8 L701.7,1105.2 L703.0,1104.2 L704.3,1105.5 L705.6,1104.7 L706.9,1106.3 L707.6,1107.4 L708.2,1108.7 L708.9,1110.6 L709.5,1112.8 L709.9,1114.5 L710.4,1116.8 L710.8,1118.5 L711.4,1120.5 L711.9,1122.6 L712.4,1121.6 L712.9,1120.1 L713.0,1118.3 L713.4,1116.0 L713.6,1114.3 L713.7,1112.3 L713.9,1110.4 L714.1,1108.6 L714.4,1106.9 L714.5,1104.6 L714.7,1103.1 L715.5,1101.4 L716.0,1103.5 L716.3,1105.5 L716.7,1107.4 L716.9,1110.0 L717.3,1112.0 L718.4,1113.6 L719.1,1112.6 L719.7,1111.7 L720.5,1110.5 L721.0,1109.6 L722.3,1108.7 L723.6,1109.6 L724.3,1110.4 L724.9,1111.7 L725.6,1113.2 L726.2,1114.4 L726.8,1115.8 L727.5,1116.9 L728.2,1118.3 L728.7,1119.3 L729.2,1118.5 L729.6,1117.2 L730.6,1115.2 L731.9,1116.5 L732.5,1118.0 L732.9,1119.3 L733.9,1120.4 L734.4,1119.2 L734.8,1117.7 L735.4,1116.7 L735.8,1115.6 L736.8,1115.2 L737.2,1116.4 L737.8,1117.7 L738.1,1119.5 L738.5,1120.8 L738.7,1122.6 L739.3,1124.4 L739.7,1126.6 L740.1,1128.6 L740.7,1130.7 L741.1,1132.5 L741.7,1133.9 L742.1,1135.1 L742.6,1136.4 L743.2,1137.6 L743.6,1138.8 L744.9,1140.4 L746.2,1140.9 L747.5,1139.6 L748.0,1138.0 L748.5,1136.4 L748.8,1134.4 L749.1,1132.0 L749.5,1129.9 L749.7,1127.7 L749.8,1126.0 L750.1,1124.0 L750.2,1122.3 L750.4,1120.1 L750.5,1118.4 L750.7,1116.4 L750.9,1114.3 L751.1,1112.7 L751.2,1110.6 L751.4,1108.7 L751.6,1106.8 L751.8,1105.1 L751.9,1102.7 L752.2,1100.9 L752.4,1099.0 L752.8,1097.1 L753.1,1095.7 L753.4,1094.1 L753.9,1092.4 L754.3,1090.9 L754.8,1089.2 L755.3,1087.6 L756.3,1086.3 L756.8,1087.3 L757.3,1088.4 L757.6,1090.3 L758.0,1092.1 L758.2,1094.1 L758.5,1096.2 L758.8,1098.3 L759.0,1100.0 L759.2,1102.2 L759.4,1104.1 L759.6,1106.1 L760.0,1108.3 L760.2,1110.4 L760.5,1112.3 L760.6,1114.3 L760.9,1116.6 L761.2,1118.5 L761.5,1120.5 L761.9,1122.9 L762.1,1125.0 L762.6,1126.7 L763.1,1128.2 L763.6,1126.6 L764.1,1125.0 L764.5,1122.9 L765.1,1120.9 L765.6,1119.7 L766.0,1118.5 L767.0,1120.1 L767.5,1121.9 L768.0,1124.2 L768.5,1126.4 L769.0,1128.2 L769.4,1129.8 L769.9,1131.5 L770.4,1133.0 L770.9,1134.7 L771.4,1136.2 L771.9,1138.0 L772.4,1136.4 L772.9,1134.7 L773.2,1133.0 L773.3,1131.1 L773.5,1128.7 L773.6,1127.2 L773.8,1125.0 L774.1,1123.2 L774.2,1121.2 L774.3,1119.1 L774.5,1117.3 L774.6,1115.7 L774.8,1113.6 L775.0,1111.9 L775.2,1109.8 L775.4,1107.9 L775.5,1105.9 L775.8,1103.9 L776.1,1101.8 L776.2,1099.8 L776.5,1097.9 L776.8,1095.7 L776.8,1095.0 L777.4,1093.4 L778.1,1092.1 L779.4,1093.4 L780.0,1095.1 L780.7,1096.6 L782.0,1097.4 L783.3,1099.1 L783.9,1101.2 L784.6,1103.1 L785.9,1104.7 L787.2,1105.6 L787.8,1106.6 L788.5,1108.0 L789.1,1109.2 L789.5,1110.4 L789.9,1109.2 L790.5,1108.0 L791.4,1107.2 L792.0,1109.2 L792.4,1111.2 L792.8,1112.8 L793.1,1114.3 L793.4,1116.1 L794.0,1117.8 L794.4,1119.4 L795.0,1120.5 L795.7,1121.8 L797.0,1122.9 L798.3,1123.4 L798.9,1125.7 L799.6,1127.5 L800.1,1129.1 L800.5,1130.8 L800.9,1132.4 L801.2,1133.8 L801.8,1135.5 L802.2,1137.2 L802.8,1139.0 L803.5,1141.3 L804.0,1142.8 L804.8,1144.6 L805.5,1145.8 L806.1,1147.0 L807.0,1148.3 L807.7,1149.4 L808.5,1150.0 L809.3,1151.1 L810.9,1151.5 L811.7,1150.5 L812.2,1149.4 L813.0,1148.0 L813.5,1147.0 L814.3,1145.8 L814.8,1144.6 L815.4,1143.3 L816.1,1142.1 L816.4,1140.5 L816.7,1139.0 L817.1,1137.2 L817.3,1135.3 L817.6,1133.3 L817.9,1131.0 L818.1,1129.1 L818.5,1127.2 L818.8,1125.5 L819.1,1123.4 L820.0,1121.8 L821.0,1123.4 L821.6,1125.1 L822.0,1126.7 L823.3,1127.5 L823.6,1129.3 L824.0,1131.0 L824.3,1132.4 L824.6,1134.2 L825.0,1135.8 L825.2,1137.2 L825.8,1138.4 L826.2,1139.7 L827.2,1140.5 L828.2,1142.1 L828.6,1143.9 L829.1,1145.4 L829.5,1147.0 L829.9,1148.4 L830.1,1150.2 L830.5,1151.9 L831.1,1153.5 L832.1,1154.3 L832.2,1152.7 L832.5,1150.8 L832.7,1148.6 L833.0,1147.0 L833.2,1145.0 L833.2,1142.9 L833.3,1141.0 L833.4,1138.7 L833.5,1136.5 L833.6,1134.3 L833.7,1132.4 L833.8,1130.4 L834.0,1128.1 L834.0,1125.7 L834.1,1123.7 L834.3,1121.7 L834.3,1119.4 L834.4,1117.6 L834.6,1115.6 L834.7,1113.5 L834.7,1111.8 L834.9,1109.9 L835.0,1108.0 L835.6,1106.4 L835.8,1108.6 L836.0,1110.4 L836.1,1112.5 L836.3,1114.5 L836.5,1116.5 L836.7,1118.6 L836.7,1120.8 L836.9,1122.6 L837.6,1123.4 L838.0,1121.4 L838.6,1119.4 L839.1,1117.6 L839.4,1116.0 L839.9,1114.5 L840.2,1113.0 L840.7,1111.0 L841.2,1109.6 L841.5,1108.0 L841.8,1106.3 L842.2,1104.7 L842.5,1103.1 L842.7,1101.1 L842.9,1099.1 L843.2,1096.8 L843.4,1095.0 L843.7,1092.9 L844.0,1091.0 L844.3,1089.0 L844.4,1086.9 L844.7,1084.5 L845.1,1082.7 L845.4,1080.4 L845.8,1078.7 L846.4,1077.1 L846.7,1075.5 L847.1,1073.9 L847.3,1072.2 L847.7,1070.8 L848.0,1069.1 L848.3,1067.4 L849.3,1065.4 L849.6,1063.8 L850.0,1062.3 L850.2,1060.7 L850.6,1058.9 L850.9,1057.2 L851.3,1055.9 L851.5,1054.3 L851.9,1052.4 L852.2,1051.0 L852.7,1048.9 L853.2,1047.5 L853.7,1045.8 L854.1,1044.1 L854.5,1042.7 L854.7,1041.0 L855.1,1039.4 L855.4,1037.9 L855.8,1036.2 L856.1,1038.0 L856.5,1039.3 L856.8,1041.0 L857.2,1039.6 L857.4,1037.8 L857.7,1036.2 L858.0,1033.9 L858.3,1031.7 L858.7,1029.7 L859.1,1027.4 L859.4,1025.4 L859.7,1023.2 L860.0,1020.9 L860.3,1019.1 L860.5,1016.9 L860.7,1015.0 L861.0,1012.8 L861.4,1010.8 L861.6,1008.5 L862.1,1007.2 L862.6,1006.1 L863.2,1007.1 L863.6,1008.5 L864.6,1010.2 L865.1,1009.0 L865.5,1007.7 L866.1,1008.9 L866.5,1010.2 L866.8,1011.8 L867.2,1013.2 L867.5,1015.0 L867.8,1016.6 L868.2,1018.2 L868.5,1019.9 L868.7,1021.0 L869.1,1022.4 L869.4,1020.5 L869.6,1018.9 L869.7,1017.0 L869.8,1015.4 L870.1,1013.4 L870.4,1011.2 L870.6,1009.4 L870.9,1007.2 L871.1,1005.3 L871.5,1007.0 L871.6,1008.7 L872.0,1010.2 L872.4,1007.9 L872.7,1006.0 L873.0,1003.7 L873.6,1001.8 L874.0,1000.4 L874.4,998.7 L874.7,997.3 L875.0,995.5 L875.2,993.7 L875.5,991.7 L875.8,989.5 L875.9,987.4 L876.5,985.5 L876.9,983.4 L877.4,985.4 L877.9,987.4 L878.2,988.9 L878.5,990.8 L878.9,992.3 L879.4,994.0 L879.8,995.5 L880.4,997.6 L880.8,999.6 L881.2,997.8 L881.4,995.8 L881.8,993.9 L882.2,991.6 L882.4,989.4 L882.8,987.4 L883.0,985.6 L883.2,983.5 L883.6,981.5 L883.7,979.3 L883.9,977.6 L884.0,975.5 L884.3,973.6 L884.4,971.5 L884.5,969.7 L884.7,967.9 L884.9,965.9 L885.1,963.9 L885.4,961.5" stroke="#2e2e2e" stroke-width="0.95"/>
<path d="M326.4,1038.2 L327.4,1037.3 L328.3,1036.6 L329.4,1036.1 L330.4,1035.8 L331.5,1036.2 L332.5,1036.9 L333.6,1038.1 L334.5,1039.1 L336.4,1039.9 L337.5,1039.0 L338.6,1037.9 L339.7,1036.7 L341.0,1035.8 L342.2,1034.7 L343.4,1033.4 L344.7,1031.6 L345.9,1030.1 L347.0,1028.5 L348.3,1026.9 L349.3,1026.2 L350.4,1026.1 L352.4,1026.9 L353.3,1025.7 L354.3,1024.9 L356.3,1025.6 L357.0,1023.6 L357.6,1022.0 L358.5,1020.4 L359.2,1022.1 L359.8,1023.6 L360.6,1024.9 L361.5,1026.1 L363.1,1026.9 L364.0,1027.7 L364.7,1028.5 L365.5,1030.0 L366.3,1030.9 L367.1,1032.4 L368.0,1033.4 L368.3,1035.0 L368.6,1036.7 L369.0,1038.3 L369.3,1039.9 L369.5,1042.1 L370.0,1043.9 L370.3,1045.8 L370.6,1048.0 L370.9,1050.1 L371.1,1052.0 L371.3,1053.8 L371.6,1055.9 L371.9,1057.7 L372.1,1059.7 L372.4,1061.7 L372.7,1063.5 L372.9,1065.4 L373.2,1067.5 L373.4,1069.6 L373.8,1071.2 L373.9,1073.5 L374.3,1075.5 L374.5,1077.2 L374.9,1079.2 L375.0,1081.2 L375.4,1083.1 L375.8,1085.4 L376.0,1087.0 L376.5,1088.4 L376.7,1090.2 L377.1,1091.9 L377.3,1093.3 L377.6,1095.3 L378.1,1096.5 L378.4,1098.4 L378.9,1100.2 L379.3,1101.5 L379.7,1103.2 L380.3,1104.7 L380.7,1106.7 L381.3,1108.1 L382.1,1110.0 L382.9,1111.4 L383.8,1112.8 L384.5,1114.6 L385.3,1115.9 L386.2,1117.1 L387.1,1118.4 L388.1,1119.5 L389.1,1120.2 L390.1,1121.1 L391.1,1120.6 L392.2,1120.3 L393.3,1120.0 L394.3,1119.5 L395.3,1120.8 L396.2,1121.9" stroke="#333" stroke-width="0.95"/>
<path d="M398.2,1122.7 L399.1,1123.8 L400.3,1124.4 L401.9,1125.7 L402.8,1124.6 L403.6,1123.6 L404.8,1123.1 L406.0,1122.7 L407.3,1122.9 L408.4,1123.1 L409.6,1122.8 L410.9,1122.4 L412.0,1121.9 L413.3,1121.9 L414.5,1122.4 L415.7,1122.4 L417.0,1121.8 L418.2,1121.4 L419.4,1121.7 L420.6,1121.9 L421.9,1121.5 L423.1,1121.1 L424.3,1121.1 L425.5,1120.8 L426.8,1120.6 L427.9,1120.3 L429.2,1120.0 L430.4,1119.5 L431.5,1119.5 L432.8,1119.8 L434.0,1119.4 L435.2,1119.2 L436.5,1118.8 L437.7,1118.7 L439.0,1118.6 L440.1,1118.2 L441.3,1118.2 L442.6,1117.9 L443.9,1117.5 L445.0,1117.5 L446.2,1117.6 L447.4,1117.1 L448.6,1117.5 L449.9,1117.5 L451.2,1116.8 L452.3,1116.2 L453.4,1116.3 L454.7,1115.9 L455.9,1115.2 L457.2,1114.6 L458.8,1113.8 L459.6,1115.2 L460.4,1116.2 L461.7,1117.1 L462.9,1117.5 L464.2,1117.9 L465.3,1118.7 L466.5,1118.8 L467.7,1119.5 L468.9,1119.8 L470.2,1120.3 L471.3,1120.5 L472.6,1120.8 L473.8,1120.9 L475.1,1120.8 L475.9,1119.8 L476.8,1119.2 L477.7,1120.0 L478.4,1121.1 L479.1,1122.9 L480.1,1124.4 L480.9,1126.6 L481.7,1128.4 L482.5,1129.1 L483.3,1130.1 L484.4,1128.2 L485.4,1126.8 L486.8,1126.5 L487.9,1126.0 L489.1,1124.9 L490.3,1124.4 L491.5,1123.5 L492.7,1122.7 L493.8,1121.9 L494.7,1121.4 L495.8,1121.8 L496.8,1122.7 L498.0,1123.3 L498.9,1123.6 L500.0,1122.9 L500.9,1121.9 L501.6,1120.2 L502.5,1118.7 L503.4,1117.5 L504.4,1116.2 L505.4,1114.8 L506.6,1113.8 L507.7,1113.2 L509.0,1112.2 L510.3,1111.2 L511.4,1110.6 L512.8,1109.8 L513.9,1109.4 L515.0,1109.1 L516.3,1108.9 L517.6,1108.3 L518.7,1108.1 L520.0,1108.0 L521.2,1107.8 L522.5,1107.0 L523.6,1106.5 L524.7,1105.6 L526.1,1105.2 L527.3,1104.9 L528.5,1104.5 L529.8,1104.7 L530.9,1105.2 L532.1,1105.7 L533.4,1106.5 L534.7,1107.3 L535.8,1107.8 L536.9,1108.3 L538.2,1108.4 L539.4,1107.9 L540.7,1107.3 L541.8,1107.1 L543.1,1106.5 L544.4,1106.4 L545.6,1106.2 L546.7,1106.5 L548.0,1107.3 L549.3,1107.8 L550.4,1108.1 L551.5,1107.9 L552.9,1107.3 L554.2,1106.8 L555.3,1106.5 L556.5,1105.8 L557.7,1104.9 L559.1,1104.6 L560.2,1104.1 L561.4,1104.0 L562.6,1103.6 L563.8,1103.1 L565.1,1103.2 L566.3,1103.0 L567.5,1102.9 L568.7,1102.6 L569.9,1102.4 L571.1,1102.1 L572.4,1101.9 L573.7,1102.4 L574.8,1102.4 L576.0,1102.2 L577.2,1101.6 L578.1,1100.4 L579.2,1099.2 L580.1,1098.1 L580.8,1096.7 L581.6,1097.8 L582.4,1099.2 L583.4,1100.1 L584.1,1100.8 L584.7,1099.1 L585.1,1097.6 L585.7,1095.9 L586.7,1095.4 L587.8,1094.3 L589.1,1094.1 L590.2,1093.5 L591.5,1092.8 L592.7,1091.9 L593.8,1091.8 L595.1,1091.1 L596.4,1091.9 L597.6,1092.7 L598.7,1092.0 L600.0,1091.9 L601.3,1092.8 L602.4,1093.5 L603.7,1092.5 L604.9,1091.9 L606.1,1091.2 L607.3,1090.2 L608.4,1090.1 L609.4,1089.4 L611.0,1088.6" stroke="#555" stroke-width="0.95" stroke-dasharray="1.8 0.9"/>
<path d="M612.7,1091.9 L613.1,1093.6 L613.7,1095.2 L614.3,1096.7 L615.3,1098.2 L616.2,1100.0 L617.2,1101.3 L618.2,1102.4 L619.3,1103.8 L620.3,1105.7 L621.5,1107.5 L622.7,1108.9 L623.9,1109.9 L625.2,1110.6 L626.5,1110.2 L627.6,1110.1 L628.8,1108.9 L630.1,1108.1 L630.4,1106.1 L630.8,1104.2 L631.9,1103.8 L632.8,1103.1 L634.7,1102.6 L636.4,1103.5 L637.2,1105.2 L638.0,1106.3 L638.8,1108.0 L639.6,1109.6 L640.3,1111.1 L641.2,1112.8 L642.0,1113.8 L642.9,1115.2 L644.5,1114.9 L645.4,1113.7 L646.1,1112.8 L646.9,1111.8 L647.7,1110.7 L649.4,1111.2 L650.2,1112.0 L651.0,1113.3 L651.7,1114.4 L652.6,1115.2 L654.2,1116.1 L655.9,1115.6 L657.5,1114.9 L658.3,1115.5 L659.1,1116.5 L659.9,1117.5 L660.7,1118.5 L661.7,1119.2 L662.4,1120.4 L663.1,1121.3 L664.0,1122.6 L664.8,1123.6 L665.6,1124.2 L666.9,1123.4 L667.6,1124.4 L668.2,1125.8 L668.7,1127.4 L669.2,1129.2 L669.5,1130.7 L670.0,1132.2 L670.4,1133.9 L670.8,1135.6 L671.2,1137.5 L671.6,1139.3 L672.1,1141.2 L672.7,1143.1 L673.0,1145.2 L673.4,1146.9 L673.9,1148.7 L674.3,1150.3 L674.7,1151.8 L675.3,1150.6 L676.0,1149.4 L676.4,1150.8 L677.0,1152.6 L677.4,1154.6 L678.0,1156.7 L678.3,1154.5 L678.7,1152.7 L678.9,1151.0 L679.2,1149.3 L679.3,1147.3 L679.5,1145.1 L679.7,1143.0 L679.8,1141.2 L680.0,1139.5 L680.2,1137.4 L680.3,1135.8 L680.6,1133.9 L681.1,1132.8 L681.5,1131.5 L682.0,1132.7 L682.5,1133.9 L683.1,1135.4 L683.5,1137.2 L684.2,1138.6 L684.8,1139.6 L686.1,1141.2 L687.4,1140.9 L688.7,1140.4 L690.0,1141.2 L691.3,1142.9 L692.6,1144.5 L693.9,1146.1 L695.2,1147.4 L696.5,1147.7 L697.8,1146.1 L698.5,1145.1 L699.1,1144.2 L700.4,1144.8 L701.7,1143.7 L703.0,1142.5 L704.3,1141.6 L705.6,1140.9 L706.9,1141.2 L708.2,1141.6 L709.5,1142.9 L709.9,1144.5 L710.3,1145.9 L710.8,1147.7 L711.1,1149.7 L711.5,1152.0 L711.8,1154.2 L712.3,1155.5 L712.6,1156.7 L712.9,1155.0 L713.2,1152.9 L713.4,1151.0 L713.6,1149.4 L713.9,1147.9 L714.2,1146.1 L715.2,1145.3 L715.7,1146.6 L716.3,1147.7 L716.9,1148.7 L717.6,1149.7 L718.9,1150.7 L720.2,1151.0 L721.5,1151.3 L722.8,1151.8 L724.1,1152.3 L725.4,1153.4 L726.7,1155.1 L728.0,1156.2 L729.3,1155.5 L730.6,1154.6 L731.9,1155.1 L733.2,1156.2 L734.5,1155.5 L735.8,1154.6 L737.1,1155.1 L738.4,1156.7 L739.1,1158.1 L739.7,1159.1 L740.5,1160.3 L741.0,1161.6 L741.8,1163.0 L742.3,1164.0 L743.0,1165.2 L743.6,1166.4 L744.9,1168.1 L746.2,1168.5 L747.5,1167.2 L747.9,1165.8 L748.5,1164.0 L748.8,1162.2 L749.2,1160.3 L749.5,1158.3 L749.8,1156.2 L750.0,1154.0 L750.4,1151.8 L750.7,1149.5 L751.2,1147.4 L751.4,1145.3 L751.7,1143.6 L752.0,1142.1 L752.4,1140.4 L752.8,1139.1 L753.4,1138.0 L754.3,1136.7 L755.3,1136.0 L756.3,1137.2 L756.8,1139.0 L757.3,1140.4 L757.5,1142.2 L757.9,1143.7 L758.2,1145.3 L758.6,1146.7 L758.9,1148.6 L759.2,1150.2 L759.7,1152.5 L760.2,1154.2 L760.7,1155.6 L761.2,1156.7 L762.1,1157.5 L763.1,1156.7 L764.1,1155.1 L765.1,1154.2 L766.0,1155.5 L767.0,1157.5 L767.6,1158.9 L768.0,1159.9 L768.5,1161.2 L769.0,1162.4 L769.5,1163.4 L769.9,1164.8 L770.9,1166.4 L771.9,1167.2 L772.3,1165.4 L772.9,1164.0 L773.2,1161.8 L773.6,1159.9 L773.8,1157.5 L774.1,1155.7 L774.3,1154.0 L774.6,1151.8 L774.8,1150.2 L775.2,1147.8 L775.4,1145.8 L775.8,1143.7 L776.4,1141.5 L776.8,1139.6 L776.8,1140.5 L778.1,1139.7 L778.7,1141.0 L779.4,1142.1 L780.7,1143.7 L781.3,1145.2 L782.0,1146.2 L783.3,1147.8 L784.6,1148.6 L785.9,1149.4 L787.2,1148.6 L788.5,1149.9 L789.8,1149.4 L791.1,1148.6 L791.7,1150.1 L792.4,1151.9 L793.0,1153.7 L793.7,1155.1 L795.0,1156.7 L796.3,1157.6 L797.6,1158.0 L798.9,1158.4 L799.5,1159.7 L800.2,1160.8 L801.0,1162.3 L801.5,1163.2 L802.8,1164.9 L804.1,1166.5 L805.4,1168.1 L806.7,1169.4 L808.0,1170.6 L809.3,1171.7 L810.6,1172.7 L811.9,1172.2 L813.2,1171.4 L813.9,1169.9 L814.5,1168.9 L815.2,1167.2 L815.8,1165.7 L816.4,1163.5 L817.1,1161.6 L817.7,1160.4 L818.1,1159.2 L819.1,1158.0 L820.4,1157.6 L821.7,1159.2 L823.0,1160.8 L824.3,1162.4 L824.8,1164.0 L825.6,1165.7 L826.1,1167.1 L826.9,1168.1 L827.6,1169.3 L828.2,1170.6 L828.9,1171.9 L829.5,1172.7 L830.8,1173.8 L832.1,1173.3 L832.5,1171.4 L833.0,1169.7 L833.1,1167.9 L833.3,1165.9 L833.5,1163.9 L833.5,1162.0 L833.7,1160.0 L834.0,1157.6 L834.1,1155.5 L834.3,1153.5 L834.7,1151.8 L835.0,1150.2 L835.6,1151.9 L835.9,1154.1 L836.2,1156.2 L836.3,1158.4 L836.5,1160.2 L836.8,1161.5 L836.9,1163.2 L837.9,1164.5 L838.5,1163.7 L839.2,1162.4 L839.8,1161.4 L840.5,1160.0 L841.3,1158.9 L841.8,1157.6 L842.6,1156.0 L843.1,1154.3 L843.8,1152.7 L844.4,1151.1 L845.0,1149.2 L845.7,1147.8 L846.4,1146.6 L847.0,1145.4 L847.6,1144.2 L848.3,1142.9 L849.6,1141.3 L850.9,1139.7 L852.2,1138.1 L853.5,1136.4 L854.1,1135.1 L854.8,1134.0 L855.5,1132.8 L856.1,1131.6 L856.8,1129.7 L857.4,1127.5 L857.8,1125.8 L858.3,1124.2 L858.7,1122.6 L859.1,1121.2 L859.3,1119.5 L859.7,1117.7 L860.0,1115.3 L860.4,1113.6 L860.7,1111.2 L861.1,1109.9 L861.6,1108.0 L862.6,1109.6 L863.2,1110.8 L863.6,1112.1 L864.6,1113.7 L865.5,1112.9 L866.1,1114.3 L866.5,1115.3 L866.9,1117.1 L867.5,1118.6 L868.0,1119.7 L868.5,1121.0 L869.4,1121.8 L869.9,1120.6 L870.4,1119.4 L870.9,1117.2 L871.4,1115.3 L871.8,1114.2 L872.4,1112.9 L873.3,1113.7 L873.9,1112.6 L874.3,1111.2 L874.8,1109.8 L875.3,1108.0 L876.3,1109.6 L876.7,1107.8 L877.2,1106.4 L877.6,1104.8 L878.2,1103.1 L879.2,1104.7 L879.5,1103.0 L879.9,1101.2 L880.2,1099.9 L881.1,1098.2 L881.5,1096.9 L882.1,1095.0 L883.1,1093.4 L883.7,1091.5 L884.1,1090.1 L885.0,1088.5" stroke="#3a3a3a" stroke-width="0.95"/>
<path d="M326.4,1040.7 L327.4,1039.9 L328.3,1039.1 L329.4,1038.8 L330.4,1038.2 L331.5,1039.3 L332.5,1039.9 L333.6,1041.1 L334.5,1041.8 L335.6,1042.5 L336.9,1042.8 L338.0,1042.0 L339.0,1040.7 L340.2,1039.9 L341.3,1038.6 L342.5,1037.4 L343.6,1036.3 L344.7,1035.0 L345.9,1033.4 L347.0,1031.8 L348.3,1030.1 L349.4,1029.4 L350.4,1028.5 L352.4,1029.3 L353.3,1028.5 L354.3,1027.7 L355.2,1028.8 L355.9,1030.1 L356.6,1028.3 L357.2,1026.1 L357.9,1024.4 L358.5,1022.8 L359.2,1024.6 L359.8,1026.1 L360.6,1026.8 L361.5,1027.7 L362.3,1028.6 L363.1,1029.3 L363.8,1030.4 L364.7,1030.9 L365.5,1032.3 L366.3,1033.4 L367.0,1034.8 L367.6,1036.6 L368.0,1038.8 L368.2,1041.2 L368.6,1043.1 L368.9,1045.1 L369.0,1046.9 L369.4,1049.0 L369.6,1050.9 L369.9,1052.9 L370.1,1054.9 L370.5,1056.8 L370.8,1058.8 L370.9,1060.7 L371.2,1062.6 L371.4,1064.6 L371.7,1066.3 L371.9,1068.2 L372.1,1070.0 L372.4,1072.1 L372.5,1074.0 L372.8,1075.9 L373.0,1077.8 L373.3,1079.9 L373.5,1081.7 L373.8,1083.7 L374.2,1085.6 L374.3,1087.7 L374.6,1089.8 L375.0,1091.4 L375.1,1093.5 L375.4,1095.4 L375.8,1097.4 L376.1,1099.8 L376.4,1101.6 L376.7,1103.4 L377.0,1105.6 L377.3,1107.7 L377.7,1109.7 L378.0,1111.5 L378.5,1113.2 L378.7,1114.7 L379.0,1116.2 L379.6,1118.3 L380.3,1120.3 L381.2,1122.1 L381.9,1123.6 L382.7,1124.6 L383.6,1126.0 L384.5,1127.3 L385.2,1128.4 L386.2,1129.0 L387.1,1130.1 L388.1,1130.6 L389.1,1131.7 L390.1,1133.0 L391.0,1134.1 L392.0,1134.7 L393.0,1135.7 L394.3,1136.2 L395.4,1136.1 L396.7,1136.2 L397.9,1136.6 L399.1,1137.0 L400.3,1137.0 L401.6,1136.7 L402.7,1136.6 L403.9,1136.4 L405.2,1135.7 L406.8,1135.4" stroke="#333" stroke-width="0.95"/>
<path d="M409.2,1136.6 L410.4,1136.8 L411.7,1137.0 L412.9,1136.5 L414.1,1135.7 L415.5,1135.3 L416.6,1134.9 L417.9,1134.6 L419.0,1134.4 L420.2,1134.5 L421.4,1134.1 L422.8,1133.9 L423.9,1133.3 L425.1,1133.1 L426.3,1132.5 L427.6,1132.6 L428.7,1132.2 L430.0,1131.9 L431.2,1131.7 L432.3,1131.5 L433.6,1131.2 L434.8,1130.7 L436.1,1130.9 L437.4,1130.6 L438.5,1130.5 L439.8,1130.0 L440.9,1130.1 L442.1,1130.0 L443.4,1129.6 L444.6,1129.9 L445.8,1130.1 L447.0,1129.4 L448.2,1129.2 L449.5,1129.6 L450.7,1129.6 L451.9,1129.3 L453.1,1128.9 L454.4,1128.4 L455.6,1127.9 L456.8,1128.2 L458.0,1128.4 L459.3,1129.0 L460.4,1129.2 L461.6,1129.0 L462.9,1128.4 L464.1,1129.3 L465.3,1130.1 L466.5,1130.7 L467.7,1130.9 L469.1,1131.2 L470.2,1131.2 L471.4,1131.3 L472.6,1131.7 L473.8,1131.7 L475.1,1131.7 L476.1,1130.9 L477.3,1130.1 L478.2,1130.6 L478.9,1131.7" stroke="#444" stroke-width="0.95" stroke-dasharray="3.2 1"/>
<path d="M480.6,1134.9 L481.5,1137.0 L482.2,1139.0 L483.1,1140.3 L483.8,1141.4 L485.4,1142.2 L486.5,1141.6 L487.5,1140.6 L488.5,1139.6 L489.5,1139.0 L490.8,1138.8 L491.9,1138.2 L493.2,1137.2 L494.4,1136.6 L495.6,1136.0 L496.8,1135.4 L498.0,1135.2 L499.2,1134.9 L500.5,1134.0 L501.7,1132.5 L502.8,1131.9 L503.8,1130.9 L504.5,1129.4 L505.2,1128.1 L505.7,1126.8 L506.7,1125.2 L507.7,1123.6 L508.8,1122.6 L509.8,1121.9 L510.9,1120.6 L511.9,1119.5 L513.0,1118.7 L513.9,1117.9 L515.1,1117.3 L516.3,1116.2 L517.5,1115.6 L518.7,1115.4 L520.0,1114.2 L521.2,1113.0 L522.4,1111.9 L523.6,1110.6 L524.9,1109.3 L526.1,1108.1 L527.4,1107.7 L528.5,1107.3 L529.8,1107.9 L530.9,1108.1 L532.1,1109.3 L533.4,1110.6 L534.6,1110.9 L535.8,1111.4 L537.0,1111.1 L538.2,1110.6 L539.4,1110.0 L540.7,1108.9 L542.0,1108.6 L543.1,1108.1 L544.4,1107.6 L545.6,1107.3 L546.8,1107.1 L548.0,1106.5 L549.2,1107.3 L550.4,1108.1 L551.6,1108.4 L552.9,1108.9 L554.2,1108.2 L555.3,1107.3 L556.5,1106.6 L557.7,1105.7 L558.9,1104.6 L560.2,1104.1 L561.0,1102.9 L561.8,1101.6 L562.6,1100.0 L563.4,1098.4 L564.2,1097.0 L565.1,1095.9 L566.3,1095.5 L567.5,1095.1 L568.8,1094.4 L569.9,1093.5 L571.1,1092.4 L572.4,1091.9 L573.7,1091.1 L574.8,1090.2 L576.0,1089.9 L577.2,1089.4 L578.5,1089.2 L579.7,1088.6 L580.6,1087.2 L581.8,1085.4 L582.2,1083.7 L582.7,1082.3 L583.0,1080.3 L583.4,1078.9 L583.9,1076.9 L584.3,1075.2 L584.7,1073.2 L586.2,1072.4 L586.9,1073.4 L587.8,1074.0 L589.0,1074.3 L590.2,1074.8 L591.4,1073.8 L592.7,1073.2 L593.5,1071.6 L594.3,1069.9 L595.0,1068.1 L595.4,1066.7 L597.1,1067.5 L598.1,1068.2 L599.2,1069.1 L600.3,1069.9 L601.3,1070.7 L603.2,1069.9 L604.3,1068.5 L605.2,1067.5 L605.8,1066.2 L606.6,1064.6 L607.3,1063.4 L608.0,1062.5 L608.9,1061.3 L610.6,1061.8 L611.3,1063.6 L612.2,1065.1 L612.8,1066.8 L613.2,1068.6 L613.8,1070.7 L614.1,1072.3 L614.7,1074.2 L615.1,1075.7 L615.4,1077.2 L616.3,1078.5 L617.1,1079.7 L617.9,1080.9 L618.7,1082.1 L619.1,1083.9 L619.5,1085.3 L619.9,1087.2 L620.3,1088.6 L620.8,1090.5 L621.4,1092.3 L621.9,1094.3 L622.7,1096.1 L623.6,1097.6 L625.2,1098.4 L625.9,1097.1 L626.8,1095.9 L627.6,1093.9 L628.4,1091.9 L629.0,1090.1 L629.5,1088.5 L630.1,1087.0 L630.6,1085.7 L631.0,1084.0 L631.5,1082.7 L632.4,1080.9 L633.4,1079.2 L634.6,1078.5 L635.6,1077.5 L637.2,1078.7 L638.1,1080.3 L638.8,1081.9 L639.6,1083.8 L640.4,1086.0 L641.2,1088.3 L641.9,1090.1 L642.3,1091.9 L642.7,1094.0 L643.2,1095.7 L643.5,1097.6 L643.8,1099.6 L644.2,1101.4 L645.1,1103.1 L645.6,1101.2 L646.1,1099.0 L646.5,1097.0 L646.7,1094.5 L647.1,1092.5 L647.6,1091.1 L648.1,1090.1 L649.4,1089.6 L650.1,1090.7 L650.7,1091.7 L651.3,1093.6 L652.0,1095.7 L652.5,1097.8 L653.3,1099.8 L654.2,1100.6 L654.8,1099.2 L655.2,1098.2 L655.8,1097.1 L656.5,1095.7 L658.1,1094.9 L659.4,1096.6 L660.1,1098.3 L660.7,1099.8 L661.2,1102.1 L661.7,1103.9 L662.3,1105.8 L662.7,1107.9 L663.2,1109.6 L663.7,1111.2 L664.3,1113.4 L665.0,1115.2 L665.7,1117.4 L666.3,1119.3 L666.7,1120.9 L667.1,1122.6 L667.6,1124.2 L667.9,1126.0 L668.4,1127.3 L668.9,1129.1 L669.4,1130.7 L669.8,1132.4 L670.2,1133.9 L670.6,1135.8 L671.0,1137.1 L671.5,1138.8 L671.8,1140.5 L672.3,1141.8 L672.8,1143.7 L673.1,1145.1 L673.6,1146.9 L674.1,1148.6 L674.5,1150.2 L674.9,1152.2 L675.4,1154.2 L675.7,1155.6 L676.2,1157.4 L676.7,1159.1 L677.1,1160.3 L677.6,1161.6 L677.9,1159.8 L678.4,1157.7 L678.6,1155.9 L678.7,1154.0 L678.8,1151.8 L679.0,1149.6 L679.2,1147.3 L679.2,1145.6 L679.4,1143.5 L679.4,1141.2 L679.5,1139.2 L679.7,1137.1 L679.7,1134.9 L679.8,1132.9 L680.0,1131.0 L680.0,1129.3 L680.2,1127.0 L680.2,1125.0 L680.3,1123.0 L680.5,1121.4 L680.6,1119.5 L680.7,1117.2 L681.0,1115.3 L681.1,1113.6 L681.5,1112.4 L681.9,1111.2 L682.3,1113.0 L682.8,1114.4 L683.2,1116.3 L683.5,1117.9 L683.8,1119.3 L684.6,1121.3 L685.1,1123.4 L685.8,1124.7 L686.4,1125.8 L687.7,1127.4 L689.0,1129.1 L690.3,1130.2 L691.6,1131.2 L692.9,1131.5 L694.2,1132.3 L695.5,1133.9 L696.8,1135.1 L698.1,1134.4 L699.4,1133.1 L700.7,1133.4 L702.0,1132.8 L703.3,1133.9 L704.6,1135.1 L705.9,1136.0 L707.2,1137.2 L708.5,1138.8 L709.2,1139.8 L709.8,1141.2 L710.5,1143.0 L711.1,1144.5 L711.6,1145.9 L712.3,1147.7 L712.5,1146.1 L712.8,1144.7 L713.2,1142.9 L713.4,1141.3 L713.7,1139.2 L713.8,1137.3 L714.0,1135.6 L714.5,1134.1 L714.9,1132.3 L715.7,1133.9 L716.2,1135.1 L716.6,1136.4 L717.9,1138.0 L719.2,1138.8 L720.5,1139.6 L721.8,1140.4 L723.1,1141.2 L724.4,1142.1 L725.7,1143.7 L727.0,1145.3 L728.3,1146.9 L728.7,1146.0 L729.3,1144.8 L730.0,1143.9 L730.6,1142.9 L731.9,1143.7 L733.2,1145.3 L734.5,1143.7 L735.8,1142.1 L737.1,1142.9 L737.8,1144.2 L738.4,1145.3 L739.1,1147.1 L739.7,1148.6 L740.3,1150.4 L741.0,1151.8 L741.7,1153.2 L742.3,1155.1 L742.9,1156.3 L743.6,1157.5 L744.2,1158.7 L744.9,1159.4 L746.2,1160.4 L747.5,1159.9 L748.0,1158.3 L748.5,1156.7 L748.8,1155.0 L749.1,1153.1 L749.5,1151.0 L749.8,1149.0 L750.0,1147.1 L750.3,1144.9 L750.4,1142.9 L750.6,1140.7 L751.0,1138.6 L751.2,1136.7 L751.4,1134.7 L751.6,1133.1 L752.0,1131.2 L752.1,1129.3 L752.4,1127.4 L752.8,1126.0 L753.1,1124.0 L753.4,1122.6 L753.9,1121.1 L754.3,1120.1 L755.3,1118.5 L756.3,1119.3 L756.7,1121.0 L757.3,1122.6 L757.5,1124.3 L758.0,1125.6 L758.2,1127.4 L758.7,1129.6 L758.9,1131.5 L759.2,1133.1 L759.6,1134.7 L759.9,1136.6 L760.2,1138.0 L760.6,1139.4 L760.8,1141.3 L761.2,1142.9 L761.6,1144.7 L762.1,1146.9 L763.1,1147.7 L763.6,1145.9 L764.1,1144.5 L764.6,1142.7 L765.1,1141.2 L766.0,1142.9 L766.6,1144.4 L767.0,1146.1 L767.6,1147.5 L768.0,1149.4 L768.5,1151.1 L769.0,1152.6 L769.4,1153.9 L769.9,1155.1 L770.9,1156.7 L771.9,1155.9 L772.2,1154.3 L772.5,1152.6 L772.9,1151.0 L773.3,1148.9 L773.5,1146.6 L773.8,1144.5 L774.2,1142.2 L774.3,1140.4 L774.6,1138.2 L774.8,1136.4 L775.0,1134.7 L775.3,1132.6 L775.5,1130.7 L775.8,1129.1 L776.2,1127.2 L776.8,1125.0 L777.1,1125.1 L778.1,1124.2 L778.8,1125.7 L779.4,1127.5 L780.0,1128.5 L780.7,1129.9 L782.0,1131.6 L783.3,1133.2 L784.6,1134.0 L785.9,1135.6 L787.2,1136.4 L788.5,1138.1 L789.5,1137.2 L790.5,1135.6 L791.4,1136.4 L791.7,1138.1 L792.1,1139.7 L792.4,1141.3 L793.0,1143.2 L793.4,1144.6 L794.7,1146.2 L796.0,1146.7 L797.3,1147.0 L798.6,1147.8 L799.3,1149.2 L799.9,1151.1 L800.5,1152.8 L801.2,1154.3 L801.8,1156.1 L802.5,1157.6 L803.1,1158.6 L803.8,1160.0 L804.5,1161.2 L805.1,1162.4 L805.8,1163.7 L806.4,1164.9 L807.0,1166.0 L807.7,1167.3 L808.3,1168.5 L809.0,1169.4 L810.3,1170.1 L811.0,1169.2 L811.6,1168.1 L812.2,1166.9 L812.9,1165.7 L813.6,1163.9 L814.2,1162.4 L814.8,1160.9 L815.5,1159.2 L816.2,1156.9 L816.8,1155.1 L817.2,1153.5 L817.5,1152.0 L817.8,1150.2 L818.2,1149.1 L818.7,1147.8 L820.0,1147.0 L821.3,1147.8 L822.6,1147.0 L823.3,1148.7 L823.9,1150.2 L824.4,1151.8 L824.7,1153.6 L825.2,1155.1 L825.7,1156.8 L826.2,1158.6 L826.5,1160.0 L827.1,1162.1 L827.8,1164.1 L828.6,1166.0 L829.1,1168.1 L829.9,1169.7 L830.4,1171.4 L831.7,1172.7 L832.3,1171.2 L832.7,1169.7 L832.9,1168.0 L833.0,1165.8 L833.1,1163.9 L833.3,1161.9 L833.4,1160.0 L833.5,1157.8 L833.5,1155.8 L833.6,1153.8 L833.6,1151.9 L833.8,1149.8 L833.9,1147.8 L834.0,1145.6 L834.0,1143.7 L834.1,1141.3 L834.2,1139.6 L834.3,1137.3 L834.4,1135.2 L834.6,1133.1 L834.7,1130.7 L835.1,1129.4 L835.3,1127.5 L835.4,1129.7 L835.6,1131.3 L835.7,1133.4 L835.9,1135.1 L836.0,1137.2 L836.2,1139.5 L836.2,1141.5 L836.3,1143.7 L836.4,1145.9 L836.6,1148.3 L836.6,1150.2 L836.8,1151.9 L837.1,1153.9 L837.3,1155.9 L838.2,1154.3 L839.0,1153.0 L839.5,1151.9 L840.1,1150.0 L840.8,1148.6 L841.3,1147.0 L841.6,1145.1 L842.1,1143.7 L842.4,1142.3 L842.8,1140.4 L843.1,1138.9 L843.4,1137.2 L843.8,1135.5 L844.1,1134.0 L844.4,1132.4 L844.7,1130.7 L845.1,1129.1 L845.4,1127.1 L845.7,1125.1 L846.7,1125.9 L847.1,1123.8 L847.7,1121.8 L848.2,1120.0 L848.6,1118.6 L849.1,1117.0 L849.6,1115.3 L850.6,1116.9 L851.1,1114.7 L851.6,1112.9 L852.9,1111.2 L854.2,1109.6 L855.5,1108.0 L856.2,1106.2 L856.8,1104.7 L857.2,1102.9 L857.4,1101.5 L857.7,1099.9 L858.1,1097.8 L858.5,1095.4 L858.7,1093.4 L859.0,1091.1 L859.4,1089.1 L859.7,1086.9 L860.1,1084.9 L860.3,1083.2 L860.7,1081.2 L861.2,1080.2 L861.6,1078.7 L862.1,1080.3 L862.6,1082.0 L863.1,1083.8 L863.6,1085.2 L864.1,1083.4 L864.6,1081.2 L865.0,1082.9 L865.5,1084.4 L866.0,1083.3 L866.5,1082.0 L867.0,1080.2 L867.5,1078.7 L868.5,1080.4 L869.1,1078.9 L869.8,1077.1 L871.1,1077.9 L871.8,1079.8 L872.4,1081.2 L872.8,1079.1 L873.3,1077.3 L873.7,1075.5 L874.0,1073.3 L874.3,1070.9 L874.6,1069.0 L874.9,1067.5 L875.3,1065.9 L875.6,1064.1 L876.6,1065.7 L877.0,1067.9 L877.3,1069.8 L877.6,1072.2 L877.9,1070.6 L878.1,1069.2 L878.5,1067.4 L878.8,1065.2 L879.2,1063.0 L879.5,1060.9 L880.5,1060.1 L881.5,1059.2 L881.8,1057.0 L882.1,1055.0 L882.4,1052.7 L882.8,1050.4 L883.2,1048.2 L883.4,1046.2 L884.4,1044.6 L885.4,1043.0" stroke="#333" stroke-width="0.95"/>
<path d="M431.2,997.6L390.6,1031.7M427.9,1065.5L395.4,1098.7M427.9,1108.1L399.5,1122.7M402.7,1137.0L431.2,1156.1" stroke="#222" stroke-width="1"/>
</g>
<g font-size="11.6" text-anchor="middle">
<text transform="translate(308.0,836.9) scale(1.17,1.03)">11</text>
<text transform="translate(308.0,870.9) scale(1.17,1.03)">10</text>
<text transform="translate(310.4,904.8) scale(1.17,1.03)">9</text>
<text transform="translate(310.4,938.8) scale(1.17,1.03)">8</text>
<text transform="translate(310.4,972.8) scale(1.17,1.03)">7</text>
<text transform="translate(310.4,1006.8) scale(1.17,1.03)">6</text>
<text transform="translate(310.4,1040.7) scale(1.17,1.03)">5</text>
<text transform="translate(310.4,1074.7) scale(1.17,1.03)">4</text>
<text transform="translate(310.4,1108.7) scale(1.17,1.03)">3</text>
<text transform="translate(310.4,1142.6) scale(1.17,1.03)">2</text>
<text transform="translate(310.4,1176.6) scale(1.17,1.03)">1</text>
<text transform="translate(323.0,1229.2) scale(1.17,1.03)">4 000</text><text transform="translate(633.5,1229.2) scale(1.17,1.03)">2 000</text><text transform="translate(879.5,1229.2) scale(1.17,1.03)">400</text>
</g>
<g font-size="13.2" text-anchor="middle">
<text x="437.2" y="997.6">a</text><text x="434.4" y="1060.5">b</text><text x="436.5" y="1108.5">c</text><text x="437.2" y="1158.5">d</text>
</g>
<text x="571" y="1248.5" font-size="14.3" textLength="53" lengthAdjust="spacingAndGlyphs">波数/cm</text><text x="625.5" y="1242" font-size="9.5" letter-spacing="1.2">−1</text>
<text transform="translate(289.8,1066) rotate(-90) scale(1,0.9)" font-size="14.3" font-weight="700" letter-spacing="0.3">反射率<tspan dx="0" font-weight="400" font-size="15">/%</tspan></text>
</svg>
<!--CHARTS_END-->
</body>
</html>
